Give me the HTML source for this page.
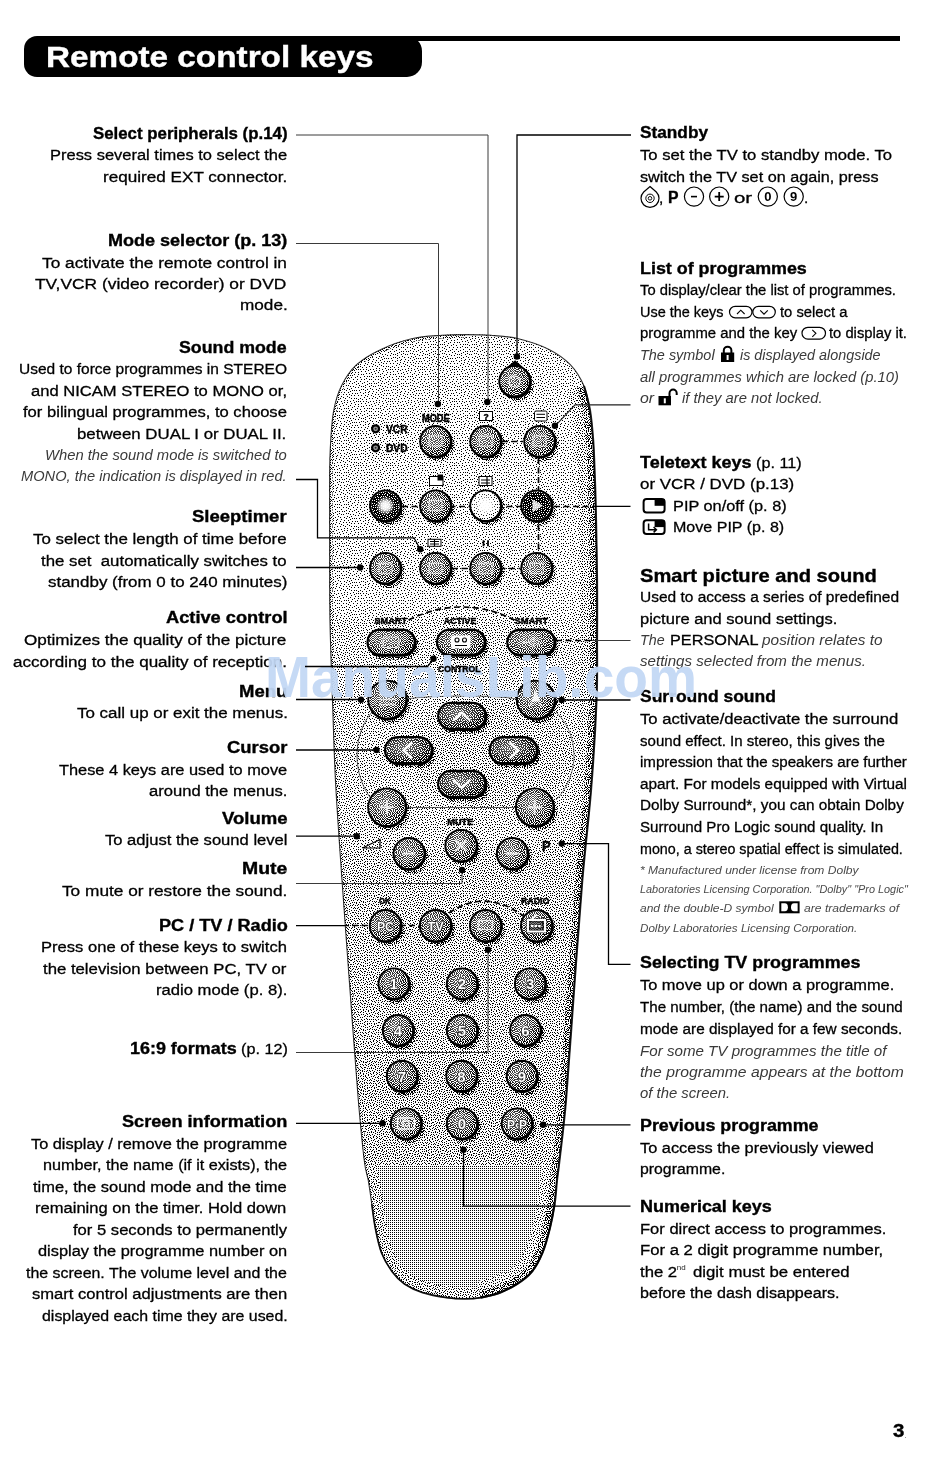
<!DOCTYPE html>
<html lang="en"><head><meta charset="utf-8"><title>Remote control keys</title>
<style>
html,body{margin:0;padding:0;background:#fff;}
body{width:950px;height:1465px;position:relative;overflow:hidden;font-family:"Liberation Sans",sans-serif;}
.t{position:absolute;white-space:pre;line-height:20px;transform-origin:0 0;margin:0;padding:0;}
.b{font-size:16px;font-weight:bold;color:#000;-webkit-text-stroke:0.35px #000;}
.b2{font-size:15.5px;color:#000;-webkit-text-stroke:0.3px #000;}
.B{font-size:18.5px;font-weight:bold;color:#000;-webkit-text-stroke:0.35px #000;}
.r{font-size:15.5px;color:#000;-webkit-text-stroke:0.3px #000;}
.i{font-size:15.5px;font-style:italic;color:#3a3a3a;}
.s{font-size:11.5px;font-style:italic;color:#4a4a4a;}
.sup{font-size:8px;color:#222;}
.dot{font-size:9px;color:#888;}
#banner{position:absolute;left:24px;top:36px;width:398px;height:41px;background:#000;border-radius:13px 15px 15px 13px;}
#rule{position:absolute;left:400px;top:36px;width:500px;height:5px;background:#000;}
#title{position:absolute;left:46px;top:39px;-webkit-text-stroke:0.4px #fff;line-height:36px;font-size:30px;font-weight:bold;color:#fff;white-space:pre;transform-origin:0 0;}
#wm{position:absolute;left:265.4px;top:647.4px;line-height:60px;font-size:57px;font-weight:bold;color:rgb(195,216,245);opacity:0.94;white-space:pre;transform-origin:0 0;}
</style></head>
<body>
<div id="rule"></div><div id="banner"></div>
<div id="title" style="transform:scaleX(1.1098)">Remote control keys</div>
<svg width="950" height="1465" viewBox="0 0 950 1465" style="position:absolute;left:0;top:0" font-family="Liberation Sans, sans-serif">
<defs>
<pattern id="p25" width="2" height="2" patternUnits="userSpaceOnUse"><rect width="2" height="2" fill="#fff"/><rect x="0" y="0" width="1" height="1" fill="#000"/></pattern>
<pattern id="n8" width="32" height="32" patternUnits="userSpaceOnUse"><rect width="32" height="32" fill="#fff"/><path d="M13 1h1v1h-1zM26 1h1v1h-1zM1 2h1v1h-1zM9 2h1v1h-1zM17 2h1v1h-1zM21 2h1v1h-1zM30 2h1v1h-1zM3 3h1v1h-1zM6 3h1v1h-1zM11 5h1v1h-1zM15 5h1v1h-1zM20 5h1v1h-1zM24 5h1v1h-1zM29 5h1v1h-1zM2 6h1v1h-1zM7 6h1v1h-1zM17 7h1v1h-1zM13 8h1v1h-1zM24 8h1v1h-1zM28 8h1v1h-1zM0 9h1v1h-1zM5 9h1v1h-1zM11 9h1v1h-1zM20 9h1v1h-1zM16 10h1v1h-1zM23 10h1v1h-1zM29 10h1v1h-1zM2 11h1v1h-1zM6 11h1v1h-1zM9 11h1v1h-1zM27 12h1v1h-1zM12 13h1v1h-1zM23 13h1v1h-1zM4 14h1v1h-1zM8 14h1v1h-1zM17 14h1v1h-1zM20 14h1v1h-1zM31 14h1v1h-1zM14 15h1v1h-1zM24 16h1v1h-1zM27 16h1v1h-1zM6 17h1v1h-1zM11 17h1v1h-1zM21 17h1v1h-1zM30 17h1v1h-1zM2 18h1v1h-1zM16 18h1v1h-1zM9 19h1v1h-1zM13 19h1v1h-1zM26 20h1v1h-1zM17 21h1v1h-1zM23 21h1v1h-1zM30 21h1v1h-1zM2 22h1v1h-1zM6 22h1v1h-1zM11 22h1v1h-1zM20 22h1v1h-1zM28 22h1v1h-1zM12 24h1v1h-1zM15 24h1v1h-1zM24 24h1v1h-1zM3 25h1v1h-1zM8 25h1v1h-1zM21 25h1v1h-1zM31 25h1v1h-1zM29 26h1v1h-1zM1 27h1v1h-1zM5 27h1v1h-1zM12 27h1v1h-1zM17 27h1v1h-1zM23 27h1v1h-1zM26 27h1v1h-1zM8 29h1v1h-1zM15 29h1v1h-1zM21 29h1v1h-1zM30 29h1v1h-1zM2 30h1v1h-1zM6 31h1v1h-1zM10 31h1v1h-1zM19 31h1v1h-1zM24 31h1v1h-1zM29 31h1v1h-1z" fill="#000" shape-rendering="crispEdges"/></pattern><pattern id="n14" width="32" height="32" patternUnits="userSpaceOnUse"><rect width="32" height="32" fill="#fff"/><path d="M4 0h1v1h-1zM15 0h1v1h-1zM7 1h1v1h-1zM13 1h1v1h-1zM19 1h1v1h-1zM26 1h1v1h-1zM28 1h1v1h-1zM1 2h1v1h-1zM9 2h1v1h-1zM11 2h1v1h-1zM17 2h1v1h-1zM21 2h1v1h-1zM23 2h1v1h-1zM30 2h1v1h-1zM3 3h1v1h-1zM6 3h1v1h-1zM13 3h1v1h-1zM18 4h1v1h-1zM27 4h1v1h-1zM31 4h1v1h-1zM9 5h1v1h-1zM11 5h1v1h-1zM15 5h1v1h-1zM20 5h1v1h-1zM24 5h1v1h-1zM29 5h1v1h-1zM0 6h1v1h-1zM2 6h1v1h-1zM4 6h1v1h-1zM7 6h1v1h-1zM13 6h1v1h-1zM26 6h1v1h-1zM17 7h1v1h-1zM21 7h1v1h-1zM30 7h1v1h-1zM8 8h1v1h-1zM13 8h1v1h-1zM16 8h1v1h-1zM24 8h1v1h-1zM28 8h1v1h-1zM0 9h1v1h-1zM3 9h1v1h-1zM5 9h1v1h-1zM11 9h1v1h-1zM20 9h1v1h-1zM16 10h1v1h-1zM23 10h1v1h-1zM26 10h1v1h-1zM29 10h1v1h-1zM2 11h1v1h-1zM6 11h1v1h-1zM9 11h1v1h-1zM13 11h1v1h-1zM19 11h1v1h-1zM31 11h1v1h-1zM15 12h1v1h-1zM21 12h1v1h-1zM27 12h1v1h-1zM12 13h1v1h-1zM23 13h1v1h-1zM29 13h1v1h-1zM2 14h1v1h-1zM4 14h1v1h-1zM8 14h1v1h-1zM17 14h1v1h-1zM20 14h1v1h-1zM25 14h1v1h-1zM31 14h1v1h-1zM6 15h1v1h-1zM10 15h1v1h-1zM14 15h1v1h-1zM1 16h1v1h-1zM24 16h1v1h-1zM27 16h1v1h-1zM4 17h1v1h-1zM6 17h1v1h-1zM8 17h1v1h-1zM11 17h1v1h-1zM14 17h1v1h-1zM18 17h1v1h-1zM21 17h1v1h-1zM30 17h1v1h-1zM2 18h1v1h-1zM16 18h1v1h-1zM24 18h1v1h-1zM27 18h1v1h-1zM9 19h1v1h-1zM13 19h1v1h-1zM22 19h1v1h-1zM31 19h1v1h-1zM3 20h1v1h-1zM6 20h1v1h-1zM19 20h1v1h-1zM26 20h1v1h-1zM14 21h1v1h-1zM17 21h1v1h-1zM23 21h1v1h-1zM30 21h1v1h-1zM2 22h1v1h-1zM6 22h1v1h-1zM9 22h1v1h-1zM11 22h1v1h-1zM20 22h1v1h-1zM28 22h1v1h-1zM0 23h1v1h-1zM5 24h1v1h-1zM12 24h1v1h-1zM15 24h1v1h-1zM17 24h1v1h-1zM19 24h1v1h-1zM24 24h1v1h-1zM26 24h1v1h-1zM28 24h1v1h-1zM3 25h1v1h-1zM8 25h1v1h-1zM21 25h1v1h-1zM31 25h1v1h-1zM14 26h1v1h-1zM29 26h1v1h-1zM1 27h1v1h-1zM5 27h1v1h-1zM9 27h1v1h-1zM12 27h1v1h-1zM17 27h1v1h-1zM19 27h1v1h-1zM23 27h1v1h-1zM26 27h1v1h-1zM28 28h1v1h-1zM4 29h1v1h-1zM8 29h1v1h-1zM15 29h1v1h-1zM21 29h1v1h-1zM30 29h1v1h-1zM2 30h1v1h-1zM12 30h1v1h-1zM26 30h1v1h-1zM0 31h1v1h-1zM6 31h1v1h-1zM10 31h1v1h-1zM17 31h1v1h-1zM19 31h1v1h-1zM22 31h1v1h-1zM24 31h1v1h-1zM29 31h1v1h-1z" fill="#000" shape-rendering="crispEdges"/></pattern><pattern id="n18" width="32" height="32" patternUnits="userSpaceOnUse"><rect width="32" height="32" fill="#fff"/><path d="M4 0h1v1h-1zM15 0h1v1h-1zM31 0h1v1h-1zM2 1h1v1h-1zM7 1h1v1h-1zM13 1h1v1h-1zM19 1h1v1h-1zM26 1h1v1h-1zM28 1h1v1h-1zM1 2h1v1h-1zM9 2h1v1h-1zM11 2h1v1h-1zM17 2h1v1h-1zM21 2h1v1h-1zM23 2h1v1h-1zM30 2h1v1h-1zM3 3h1v1h-1zM6 3h1v1h-1zM13 3h1v1h-1zM15 3h1v1h-1zM25 3h1v1h-1zM5 4h1v1h-1zM18 4h1v1h-1zM27 4h1v1h-1zM31 4h1v1h-1zM9 5h1v1h-1zM11 5h1v1h-1zM15 5h1v1h-1zM20 5h1v1h-1zM22 5h1v1h-1zM24 5h1v1h-1zM29 5h1v1h-1zM0 6h1v1h-1zM2 6h1v1h-1zM4 6h1v1h-1zM7 6h1v1h-1zM13 6h1v1h-1zM26 6h1v1h-1zM17 7h1v1h-1zM21 7h1v1h-1zM30 7h1v1h-1zM1 8h1v1h-1zM6 8h1v1h-1zM8 8h1v1h-1zM10 8h1v1h-1zM13 8h1v1h-1zM16 8h1v1h-1zM19 8h1v1h-1zM24 8h1v1h-1zM26 8h1v1h-1zM28 8h1v1h-1zM0 9h1v1h-1zM3 9h1v1h-1zM5 9h1v1h-1zM11 9h1v1h-1zM20 9h1v1h-1zM16 10h1v1h-1zM23 10h1v1h-1zM26 10h1v1h-1zM29 10h1v1h-1zM2 11h1v1h-1zM6 11h1v1h-1zM9 11h1v1h-1zM13 11h1v1h-1zM19 11h1v1h-1zM31 11h1v1h-1zM1 12h1v1h-1zM5 12h1v1h-1zM10 12h1v1h-1zM15 12h1v1h-1zM17 12h1v1h-1zM21 12h1v1h-1zM25 12h1v1h-1zM27 12h1v1h-1zM12 13h1v1h-1zM23 13h1v1h-1zM29 13h1v1h-1zM2 14h1v1h-1zM4 14h1v1h-1zM8 14h1v1h-1zM17 14h1v1h-1zM20 14h1v1h-1zM25 14h1v1h-1zM31 14h1v1h-1zM6 15h1v1h-1zM10 15h1v1h-1zM12 15h1v1h-1zM14 15h1v1h-1zM18 15h1v1h-1zM22 15h1v1h-1zM29 15h1v1h-1zM1 16h1v1h-1zM24 16h1v1h-1zM27 16h1v1h-1zM4 17h1v1h-1zM6 17h1v1h-1zM8 17h1v1h-1zM11 17h1v1h-1zM14 17h1v1h-1zM18 17h1v1h-1zM21 17h1v1h-1zM30 17h1v1h-1zM2 18h1v1h-1zM16 18h1v1h-1zM19 18h1v1h-1zM24 18h1v1h-1zM27 18h1v1h-1zM5 19h1v1h-1zM9 19h1v1h-1zM13 19h1v1h-1zM22 19h1v1h-1zM28 19h1v1h-1zM31 19h1v1h-1zM0 20h1v1h-1zM3 20h1v1h-1zM6 20h1v1h-1zM11 20h1v1h-1zM19 20h1v1h-1zM26 20h1v1h-1zM14 21h1v1h-1zM17 21h1v1h-1zM23 21h1v1h-1zM25 21h1v1h-1zM30 21h1v1h-1zM2 22h1v1h-1zM6 22h1v1h-1zM9 22h1v1h-1zM11 22h1v1h-1zM15 22h1v1h-1zM20 22h1v1h-1zM28 22h1v1h-1zM0 23h1v1h-1zM7 23h1v1h-1zM22 23h1v1h-1zM30 23h1v1h-1zM2 24h1v1h-1zM5 24h1v1h-1zM12 24h1v1h-1zM15 24h1v1h-1zM17 24h1v1h-1zM19 24h1v1h-1zM24 24h1v1h-1zM26 24h1v1h-1zM28 24h1v1h-1zM3 25h1v1h-1zM8 25h1v1h-1zM10 25h1v1h-1zM21 25h1v1h-1zM31 25h1v1h-1zM14 26h1v1h-1zM29 26h1v1h-1zM1 27h1v1h-1zM5 27h2v1h-2zM9 27h1v1h-1zM12 27h1v1h-1zM17 27h1v1h-1zM19 27h1v1h-1zM21 27h1v1h-1zM23 27h1v1h-1zM26 27h1v1h-1zM0 28h1v1h-1zM10 28h1v1h-1zM24 28h1v1h-1zM28 28h1v1h-1zM4 29h1v1h-1zM8 29h1v1h-1zM13 29h1v1h-1zM15 29h1v1h-1zM18 29h1v1h-1zM21 29h1v1h-1zM30 29h1v1h-1zM2 30h1v1h-1zM12 30h1v1h-1zM26 30h2v1h-2zM0 31h1v1h-1zM6 31h1v1h-1zM8 31h1v1h-1zM10 31h1v1h-1zM17 31h1v1h-1zM19 31h1v1h-1zM22 31h1v1h-1zM24 31h1v1h-1zM29 31h1v1h-1z" fill="#000" shape-rendering="crispEdges"/></pattern><pattern id="n22" width="32" height="32" patternUnits="userSpaceOnUse"><rect width="32" height="32" fill="#fff"/><path d="M4 0h1v1h-1zM12 0h1v1h-1zM15 0h1v1h-1zM22 0h1v1h-1zM31 0h1v1h-1zM2 1h1v1h-1zM5 1h1v1h-1zM7 1h1v1h-1zM13 1h1v1h-1zM19 1h1v1h-1zM25 1h2v1h-2zM28 1h1v1h-1zM1 2h1v1h-1zM9 2h1v1h-1zM11 2h1v1h-1zM17 2h1v1h-1zM21 2h1v1h-1zM23 2h1v1h-1zM30 2h1v1h-1zM3 3h1v1h-1zM6 3h1v1h-1zM13 3h1v1h-1zM15 3h1v1h-1zM20 3h1v1h-1zM25 3h1v1h-1zM28 3h1v1h-1zM1 4h1v1h-1zM5 4h1v1h-1zM8 4h1v1h-1zM18 4h1v1h-1zM27 4h1v1h-1zM31 4h1v1h-1zM9 5h1v1h-1zM11 5h1v1h-1zM15 5h1v1h-1zM17 5h1v1h-1zM20 5h1v1h-1zM22 5h1v1h-1zM24 5h1v1h-1zM29 5h1v1h-1zM0 6h1v1h-1zM2 6h1v1h-1zM4 6h1v1h-1zM7 6h1v1h-1zM11 6h1v1h-1zM13 6h1v1h-1zM23 6h1v1h-1zM26 6h1v1h-1zM4 7h1v1h-1zM17 7h1v1h-1zM21 7h1v1h-1zM30 7h1v1h-1zM1 8h1v1h-1zM6 8h1v1h-1zM8 8h1v1h-1zM10 8h1v1h-1zM13 8h1v1h-1zM16 8h1v1h-1zM19 8h1v1h-1zM24 8h1v1h-1zM26 8h1v1h-1zM28 8h1v1h-1zM0 9h1v1h-1zM3 9h1v1h-1zM5 9h1v1h-1zM11 9h1v1h-1zM14 9h1v1h-1zM20 9h1v1h-1zM22 9h1v1h-1zM30 9h1v1h-1zM8 10h1v1h-1zM16 10h1v1h-1zM23 10h1v1h-1zM26 10h1v1h-1zM29 10h1v1h-1zM2 11h1v1h-1zM6 11h1v1h-1zM9 11h1v1h-1zM12 11h2v1h-2zM19 11h1v1h-1zM31 11h1v1h-1zM1 12h1v1h-1zM3 12h1v1h-1zM5 12h1v1h-1zM10 12h1v1h-1zM15 12h1v1h-1zM17 12h1v1h-1zM19 12h1v1h-1zM21 12h1v1h-1zM25 12h1v1h-1zM27 12h1v1h-1zM7 13h1v1h-1zM12 13h1v1h-1zM23 13h1v1h-1zM29 13h1v1h-1zM2 14h1v1h-1zM4 14h1v1h-1zM8 14h1v1h-1zM15 14h1v1h-1zM17 14h1v1h-1zM20 14h1v1h-1zM25 14h1v1h-1zM27 14h1v1h-1zM31 14h1v1h-1zM6 15h1v1h-1zM10 15h1v1h-1zM12 15h1v1h-1zM14 15h1v1h-1zM18 15h1v1h-1zM22 15h1v1h-1zM29 15h1v1h-1zM0 16h2v1h-2zM3 16h1v1h-1zM21 16h1v1h-1zM24 16h1v1h-1zM27 16h1v1h-1zM4 17h1v1h-1zM6 17h1v1h-1zM8 17h1v1h-1zM11 17h1v1h-1zM14 17h1v1h-1zM18 17h1v1h-1zM21 17h1v1h-1zM25 17h1v1h-1zM30 17h1v1h-1zM2 18h1v1h-1zM11 18h1v1h-1zM16 18h1v1h-1zM19 18h1v1h-1zM24 18h1v1h-1zM27 18h1v1h-1zM5 19h1v1h-1zM9 19h1v1h-1zM13 19h1v1h-1zM16 19h1v1h-1zM22 19h1v1h-1zM28 19h1v1h-1zM31 19h1v1h-1zM0 20h1v1h-1zM3 20h1v1h-1zM6 20h1v1h-1zM8 20h1v1h-1zM11 20h1v1h-1zM19 20h1v1h-1zM21 20h1v1h-1zM26 20h1v1h-1zM14 21h1v1h-1zM17 21h1v1h-1zM23 21h1v1h-1zM25 21h1v1h-1zM30 21h1v1h-1zM2 22h1v1h-1zM4 22h1v1h-1zM6 22h1v1h-1zM9 22h1v1h-1zM11 22h1v1h-1zM15 22h1v1h-1zM20 22h1v1h-1zM26 22h1v1h-1zM28 22h1v1h-1zM0 23h1v1h-1zM7 23h1v1h-1zM13 23h1v1h-1zM18 23h1v1h-1zM22 23h1v1h-1zM30 23h1v1h-1zM2 24h1v1h-1zM5 24h1v1h-1zM12 24h1v1h-1zM15 24h1v1h-1zM17 24h1v1h-1zM19 24h1v1h-1zM24 24h1v1h-1zM26 24h1v1h-1zM28 24h1v1h-1zM3 25h1v1h-1zM8 25h1v1h-1zM10 25h1v1h-1zM21 25h1v1h-1zM25 25h1v1h-1zM31 25h1v1h-1zM14 26h1v1h-1zM29 26h1v1h-1zM1 27h1v1h-1zM3 27h1v1h-1zM5 27h2v1h-2zM9 27h1v1h-1zM12 27h1v1h-1zM15 27h1v1h-1zM17 27h1v1h-1zM19 27h1v1h-1zM21 27h1v1h-1zM23 27h1v1h-1zM26 27h1v1h-1zM30 27h1v1h-1zM0 28h1v1h-1zM10 28h1v1h-1zM24 28h1v1h-1zM28 28h1v1h-1zM4 29h1v1h-1zM6 29h1v1h-1zM8 29h1v1h-1zM13 29h1v1h-1zM15 29h1v1h-1zM18 29h1v1h-1zM21 29h1v1h-1zM30 29h1v1h-1zM2 30h1v1h-1zM12 30h1v1h-1zM26 30h2v1h-2zM0 31h1v1h-1zM2 31h1v1h-1zM6 31h1v1h-1zM8 31h1v1h-1zM10 31h1v1h-1zM15 31h1v1h-1zM17 31h1v1h-1zM19 31h1v1h-1zM22 31h1v1h-1zM24 31h1v1h-1zM29 31h1v1h-1z" fill="#000" shape-rendering="crispEdges"/></pattern><pattern id="n25" width="32" height="32" patternUnits="userSpaceOnUse"><rect width="32" height="32" fill="#fff"/><path d="M4 0h1v1h-1zM12 0h1v1h-1zM15 0h1v1h-1zM22 0h1v1h-1zM31 0h1v1h-1zM2 1h1v1h-1zM5 1h1v1h-1zM7 1h1v1h-1zM9 1h1v1h-1zM13 1h1v1h-1zM19 1h1v1h-1zM25 1h2v1h-2zM28 1h1v1h-1zM1 2h1v1h-1zM9 2h1v1h-1zM11 2h1v1h-1zM16 2h2v1h-2zM21 2h1v1h-1zM23 2h1v1h-1zM30 2h2v1h-2zM3 3h1v1h-1zM6 3h1v1h-1zM11 3h1v1h-1zM13 3h1v1h-1zM15 3h1v1h-1zM20 3h1v1h-1zM23 3h1v1h-1zM25 3h1v1h-1zM28 3h1v1h-1zM1 4h1v1h-1zM3 4h1v1h-1zM5 4h1v1h-1zM8 4h1v1h-1zM18 4h1v1h-1zM27 4h1v1h-1zM31 4h1v1h-1zM9 5h1v1h-1zM11 5h1v1h-1zM15 5h1v1h-1zM17 5h1v1h-1zM20 5h1v1h-1zM22 5h1v1h-1zM24 5h1v1h-1zM29 5h1v1h-1zM0 6h1v1h-1zM2 6h1v1h-1zM4 6h1v1h-1zM7 6h1v1h-1zM11 6h1v1h-1zM13 6h2v1h-2zM19 6h1v1h-1zM23 6h1v1h-1zM26 6h1v1h-1zM28 6h1v1h-1zM4 7h1v1h-1zM17 7h1v1h-1zM21 7h1v1h-1zM30 7h1v1h-1zM1 8h1v1h-1zM6 8h1v1h-1zM8 8h1v1h-1zM10 8h1v1h-1zM13 8h1v1h-1zM16 8h1v1h-1zM19 8h1v1h-1zM24 8h1v1h-1zM26 8h1v1h-1zM28 8h1v1h-1zM0 9h1v1h-1zM3 9h1v1h-1zM5 9h1v1h-1zM11 9h1v1h-1zM14 9h1v1h-1zM18 9h1v1h-1zM20 9h1v1h-1zM22 9h1v1h-1zM30 9h1v1h-1zM8 10h1v1h-1zM16 10h1v1h-1zM23 10h1v1h-1zM26 10h1v1h-1zM29 10h1v1h-1zM2 11h1v1h-1zM6 11h1v1h-1zM9 11h1v1h-1zM12 11h2v1h-2zM19 11h1v1h-1zM23 11h1v1h-1zM28 11h1v1h-1zM31 11h1v1h-1zM1 12h1v1h-1zM3 12h1v1h-1zM5 12h1v1h-1zM10 12h1v1h-1zM15 12h1v1h-1zM17 12h1v1h-1zM19 12h1v1h-1zM21 12h1v1h-1zM25 12h1v1h-1zM27 12h1v1h-1zM7 13h1v1h-1zM12 13h1v1h-1zM23 13h1v1h-1zM29 13h1v1h-1zM31 13h1v1h-1zM2 14h1v1h-1zM4 14h1v1h-1zM8 14h1v1h-1zM10 14h1v1h-1zM15 14h1v1h-1zM17 14h1v1h-1zM20 14h1v1h-1zM25 14h1v1h-1zM27 14h1v1h-1zM31 14h1v1h-1zM6 15h1v1h-1zM10 15h1v1h-1zM12 15h1v1h-1zM14 15h1v1h-1zM18 15h1v1h-1zM22 15h1v1h-1zM29 15h1v1h-1zM0 16h2v1h-2zM3 16h1v1h-1zM8 16h1v1h-1zM16 16h1v1h-1zM21 16h1v1h-1zM24 16h1v1h-1zM27 16h1v1h-1zM4 17h1v1h-1zM6 17h1v1h-1zM8 17h1v1h-1zM11 17h1v1h-1zM14 17h1v1h-1zM18 17h1v1h-1zM21 17h1v1h-1zM25 17h1v1h-1zM30 17h1v1h-1zM2 18h1v1h-1zM11 18h1v1h-1zM16 18h1v1h-1zM19 18h1v1h-1zM24 18h1v1h-1zM27 18h1v1h-1zM29 18h1v1h-1zM5 19h1v1h-1zM9 19h1v1h-1zM13 19h1v1h-1zM16 19h1v1h-1zM22 19h1v1h-1zM28 19h1v1h-1zM31 19h1v1h-1zM0 20h2v1h-2zM3 20h1v1h-1zM6 20h1v1h-1zM8 20h1v1h-1zM11 20h1v1h-1zM13 20h1v1h-1zM19 20h1v1h-1zM21 20h1v1h-1zM26 20h1v1h-1zM14 21h1v1h-1zM17 21h1v1h-1zM23 21h1v1h-1zM25 21h1v1h-1zM30 21h1v1h-1zM2 22h1v1h-1zM4 22h1v1h-1zM6 22h1v1h-1zM9 22h1v1h-1zM11 22h1v1h-1zM15 22h1v1h-1zM20 22h1v1h-1zM26 22h1v1h-1zM28 22h1v1h-1zM0 23h1v1h-1zM7 23h1v1h-1zM10 23h1v1h-1zM13 23h1v1h-1zM18 23h1v1h-1zM22 23h1v1h-1zM30 23h1v1h-1zM2 24h1v1h-1zM5 24h1v1h-1zM12 24h1v1h-1zM15 24h1v1h-1zM17 24h1v1h-1zM19 24h1v1h-1zM24 24h1v1h-1zM26 24h1v1h-1zM28 24h1v1h-1zM0 25h1v1h-1zM3 25h1v1h-1zM7 25h2v1h-2zM10 25h1v1h-1zM21 25h2v1h-2zM25 25h1v1h-1zM31 25h1v1h-1zM12 26h1v1h-1zM14 26h1v1h-1zM18 26h1v1h-1zM27 26h1v1h-1zM29 26h1v1h-1zM1 27h1v1h-1zM3 27h1v1h-1zM5 27h2v1h-2zM9 27h1v1h-1zM12 27h1v1h-1zM15 27h1v1h-1zM17 27h1v1h-1zM19 27h1v1h-1zM21 27h1v1h-1zM23 27h1v1h-1zM26 27h1v1h-1zM30 27h1v1h-1zM0 28h1v1h-1zM10 28h1v1h-1zM24 28h1v1h-1zM28 28h1v1h-1zM4 29h1v1h-1zM6 29h1v1h-1zM8 29h1v1h-1zM13 29h1v1h-1zM15 29h1v1h-1zM18 29h1v1h-1zM21 29h1v1h-1zM24 29h1v1h-1zM30 29h1v1h-1zM2 30h1v1h-1zM10 30h1v1h-1zM12 30h1v1h-1zM20 30h1v1h-1zM26 30h2v1h-2zM30 30h1v1h-1zM0 31h1v1h-1zM2 31h1v1h-1zM6 31h1v1h-1zM8 31h1v1h-1zM10 31h1v1h-1zM15 31h1v1h-1zM17 31h1v1h-1zM19 31h1v1h-1zM22 31h1v1h-1zM24 31h1v1h-1zM29 31h1v1h-1z" fill="#000" shape-rendering="crispEdges"/></pattern><pattern id="n30" width="32" height="32" patternUnits="userSpaceOnUse"><rect width="32" height="32" fill="#fff"/><path d="M3 0h1v1h-1zM6 0h1v1h-1zM12 0h1v1h-1zM14 0h2v1h-2zM17 0h1v1h-1zM21 0h1v1h-1zM23 0h1v1h-1zM27 0h1v1h-1zM30 0h1v1h-1zM0 1h2v1h-2zM4 1h1v1h-1zM7 1h1v1h-1zM10 1h1v1h-1zM13 1h1v1h-1zM19 1h1v1h-1zM25 1h1v1h-1zM28 1h1v1h-1zM3 2h1v1h-1zM5 2h1v1h-1zM8 2h1v1h-1zM11 2h1v1h-1zM16 2h1v1h-1zM18 2h1v1h-1zM21 2h1v1h-1zM23 2h1v1h-1zM26 2h1v1h-1zM29 2h1v1h-1zM31 2h1v1h-1zM1 3h1v1h-1zM6 3h1v1h-1zM10 3h1v1h-1zM13 3h1v1h-1zM15 3h1v1h-1zM19 3h1v1h-1zM24 3h1v1h-1zM27 3h1v1h-1zM0 4h1v1h-1zM2 4h1v1h-1zM4 4h1v1h-1zM8 4h1v1h-1zM12 4h1v1h-1zM16 4h1v1h-1zM20 4h1v1h-1zM23 4h1v1h-1zM25 4h1v1h-1zM28 4h1v1h-1zM30 4h1v1h-1zM4 5h1v1h-1zM6 5h1v1h-1zM11 5h1v1h-1zM14 5h1v1h-1zM18 5h1v1h-1zM22 5h1v1h-1zM28 5h1v1h-1zM0 6h1v1h-1zM2 6h1v1h-1zM7 6h1v1h-1zM9 6h2v1h-2zM13 6h1v1h-1zM16 6h1v1h-1zM20 6h1v1h-1zM24 6h1v1h-1zM26 6h1v1h-1zM30 6h1v1h-1zM0 7h1v1h-1zM3 7h1v1h-1zM5 7h1v1h-1zM8 7h1v1h-1zM12 7h1v1h-1zM14 7h1v1h-1zM18 7h1v1h-1zM22 7h1v1h-1zM27 7h1v1h-1zM29 7h1v1h-1zM2 8h1v1h-1zM7 8h1v1h-1zM10 8h1v1h-1zM15 8h1v1h-1zM17 8h1v1h-1zM19 8h1v1h-1zM21 8h1v1h-1zM23 8h1v1h-1zM25 8h1v1h-1zM30 8h1v1h-1zM0 9h1v1h-1zM4 9h2v1h-2zM9 9h1v1h-1zM12 9h2v1h-2zM26 9h1v1h-1zM28 9h1v1h-1zM2 10h1v1h-1zM7 10h1v1h-1zM9 10h1v1h-1zM14 10h1v1h-1zM16 10h1v1h-1zM19 10h1v1h-1zM21 10h1v1h-1zM23 10h2v1h-2zM27 10h1v1h-1zM29 10h1v1h-1zM31 10h1v1h-1zM3 11h1v1h-1zM5 11h1v1h-1zM11 11h1v1h-1zM13 11h1v1h-1zM17 11h2v1h-2zM22 11h1v1h-1zM26 11h1v1h-1zM30 11h1v1h-1zM0 12h2v1h-2zM6 12h1v1h-1zM8 12h1v1h-1zM10 12h1v1h-1zM12 12h1v1h-1zM15 12h1v1h-1zM21 12h1v1h-1zM25 12h1v1h-1zM28 12h1v1h-1zM3 13h2v1h-2zM14 13h1v1h-1zM16 13h1v1h-1zM18 13h1v1h-1zM20 13h1v1h-1zM23 13h2v1h-2zM28 13h1v1h-1zM30 13h1v1h-1zM2 14h1v1h-1zM6 14h1v1h-1zM8 14h1v1h-1zM10 14h1v1h-1zM12 14h1v1h-1zM21 14h1v1h-1zM26 14h1v1h-1zM31 14h1v1h-1zM0 15h1v1h-1zM2 15h1v1h-1zM5 15h1v1h-1zM7 15h1v1h-1zM12 15h1v1h-1zM14 15h1v1h-1zM16 15h1v1h-1zM18 15h2v1h-2zM21 15h1v1h-1zM23 15h1v1h-1zM25 15h1v1h-1zM27 15h1v1h-1zM29 15h1v1h-1zM3 16h1v1h-1zM8 16h1v1h-1zM10 16h1v1h-1zM24 16h1v1h-1zM30 16h1v1h-1zM1 17h1v1h-1zM4 17h1v1h-1zM6 17h1v1h-1zM11 17h1v1h-1zM13 17h1v1h-1zM15 17h1v1h-1zM17 17h1v1h-1zM20 17h1v1h-1zM22 17h1v1h-1zM27 17h1v1h-1zM29 17h1v1h-1zM31 17h1v1h-1zM0 18h1v1h-1zM2 18h1v1h-1zM7 18h1v1h-1zM9 18h1v1h-1zM14 18h1v1h-1zM17 18h1v1h-1zM19 18h1v1h-1zM23 18h1v1h-1zM25 18h2v1h-2zM4 19h1v1h-1zM6 19h1v1h-1zM10 19h1v1h-1zM12 19h1v1h-1zM16 19h1v1h-1zM21 19h1v1h-1zM28 19h1v1h-1zM30 19h1v1h-1zM0 20h1v1h-1zM2 20h1v1h-1zM8 20h1v1h-1zM11 20h1v1h-1zM14 20h1v1h-1zM18 20h2v1h-2zM23 20h2v1h-2zM26 20h1v1h-1zM2 21h1v1h-1zM4 21h1v1h-1zM6 21h1v1h-1zM10 21h1v1h-1zM12 21h1v1h-1zM16 21h1v1h-1zM21 21h1v1h-1zM27 21h1v1h-1zM29 21h1v1h-1zM31 21h1v1h-1zM1 22h1v1h-1zM6 22h1v1h-1zM8 22h1v1h-1zM13 22h1v1h-1zM15 22h1v1h-1zM19 22h1v1h-1zM22 22h1v1h-1zM24 22h1v1h-1zM0 23h1v1h-1zM3 23h2v1h-2zM10 23h1v1h-1zM12 23h1v1h-1zM17 23h2v1h-2zM21 23h1v1h-1zM26 23h1v1h-1zM28 23h1v1h-1zM30 23h1v1h-1zM2 24h1v1h-1zM6 24h1v1h-1zM9 24h1v1h-1zM15 24h1v1h-1zM20 24h1v1h-1zM23 24h1v1h-1zM25 24h1v1h-1zM0 25h1v1h-1zM3 25h1v1h-1zM5 25h1v1h-1zM8 25h1v1h-1zM11 25h2v1h-2zM14 25h1v1h-1zM17 25h1v1h-1zM19 25h1v1h-1zM22 25h1v1h-1zM28 25h1v1h-1zM30 25h1v1h-1zM1 26h1v1h-1zM7 26h1v1h-1zM10 26h1v1h-1zM16 26h1v1h-1zM21 26h1v1h-1zM25 26h1v1h-1zM27 26h1v1h-1zM30 26h1v1h-1zM2 27h1v1h-1zM4 27h2v1h-2zM9 27h1v1h-1zM12 27h1v1h-1zM14 27h1v1h-1zM16 27h1v1h-1zM19 27h1v1h-1zM22 27h1v1h-1zM24 27h1v1h-1zM0 28h1v1h-1zM6 28h1v1h-1zM8 28h1v1h-1zM10 28h1v1h-1zM13 28h1v1h-1zM17 28h1v1h-1zM20 28h1v1h-1zM26 28h1v1h-1zM28 28h1v1h-1zM30 28h1v1h-1zM2 29h2v1h-2zM5 29h1v1h-1zM12 29h1v1h-1zM15 29h1v1h-1zM17 29h1v1h-1zM19 29h1v1h-1zM22 29h1v1h-1zM24 29h1v1h-1zM26 29h1v1h-1zM30 29h1v1h-1zM1 30h1v1h-1zM7 30h1v1h-1zM10 30h1v1h-1zM13 30h1v1h-1zM15 30h1v1h-1zM21 30h1v1h-1zM28 30h1v1h-1zM31 30h1v1h-1zM0 31h1v1h-1zM3 31h1v1h-1zM5 31h1v1h-1zM8 31h1v1h-1zM10 31h1v1h-1zM17 31h1v1h-1zM19 31h1v1h-1zM24 31h1v1h-1zM26 31h1v1h-1zM29 31h1v1h-1z" fill="#000" shape-rendering="crispEdges"/></pattern><pattern id="n38" width="32" height="32" patternUnits="userSpaceOnUse"><rect width="32" height="32" fill="#fff"/><path d="M1 0h1v1h-1zM3 0h1v1h-1zM6 0h1v1h-1zM9 0h1v1h-1zM12 0h1v1h-1zM14 0h2v1h-2zM17 0h1v1h-1zM20 0h2v1h-2zM23 0h1v1h-1zM27 0h1v1h-1zM30 0h1v1h-1zM0 1h2v1h-2zM4 1h1v1h-1zM7 1h1v1h-1zM10 1h1v1h-1zM13 1h1v1h-1zM17 1h1v1h-1zM19 1h1v1h-1zM24 1h2v1h-2zM28 1h1v1h-1zM3 2h1v1h-1zM5 2h1v1h-1zM8 2h1v1h-1zM11 2h1v1h-1zM14 2h1v1h-1zM16 2h1v1h-1zM18 2h1v1h-1zM21 2h1v1h-1zM23 2h1v1h-1zM26 2h1v1h-1zM29 2h1v1h-1zM31 2h1v1h-1zM1 3h1v1h-1zM3 3h1v1h-1zM6 3h2v1h-2zM10 3h1v1h-1zM13 3h1v1h-1zM15 3h1v1h-1zM19 3h1v1h-1zM21 3h1v1h-1zM24 3h1v1h-1zM27 3h1v1h-1zM30 3h1v1h-1zM0 4h1v1h-1zM2 4h1v1h-1zM4 4h1v1h-1zM8 4h2v1h-2zM12 4h1v1h-1zM16 4h2v1h-2zM20 4h1v1h-1zM23 4h1v1h-1zM25 4h1v1h-1zM28 4h1v1h-1zM30 4h1v1h-1zM4 5h1v1h-1zM6 5h1v1h-1zM11 5h1v1h-1zM14 5h1v1h-1zM18 5h2v1h-2zM22 5h1v1h-1zM26 5h1v1h-1zM28 5h1v1h-1zM31 5h1v1h-1zM0 6h1v1h-1zM2 6h1v1h-1zM5 6h1v1h-1zM7 6h1v1h-1zM9 6h2v1h-2zM13 6h1v1h-1zM15 6h2v1h-2zM20 6h2v1h-2zM24 6h1v1h-1zM26 6h1v1h-1zM30 6h1v1h-1zM0 7h1v1h-1zM3 7h1v1h-1zM5 7h1v1h-1zM8 7h1v1h-1zM12 7h1v1h-1zM14 7h1v1h-1zM18 7h1v1h-1zM22 7h1v1h-1zM24 7h1v1h-1zM27 7h1v1h-1zM29 7h1v1h-1zM2 8h1v1h-1zM7 8h1v1h-1zM10 8h1v1h-1zM15 8h1v1h-1zM17 8h1v1h-1zM19 8h1v1h-1zM21 8h1v1h-1zM23 8h1v1h-1zM25 8h1v1h-1zM28 8h1v1h-1zM30 8h2v1h-2zM0 9h1v1h-1zM4 9h3v1h-3zM9 9h1v1h-1zM11 9h3v1h-3zM15 9h1v1h-1zM17 9h1v1h-1zM20 9h1v1h-1zM26 9h1v1h-1zM28 9h1v1h-1zM1 10h2v1h-2zM7 10h1v1h-1zM9 10h1v1h-1zM14 10h1v1h-1zM16 10h1v1h-1zM19 10h1v1h-1zM21 10h1v1h-1zM23 10h2v1h-2zM27 10h1v1h-1zM29 10h1v1h-1zM31 10h1v1h-1zM3 11h3v1h-3zM7 11h1v1h-1zM11 11h1v1h-1zM13 11h1v1h-1zM17 11h2v1h-2zM22 11h1v1h-1zM26 11h1v1h-1zM30 11h1v1h-1zM0 12h2v1h-2zM6 12h1v1h-1zM8 12h1v1h-1zM10 12h1v1h-1zM12 12h1v1h-1zM15 12h1v1h-1zM19 12h1v1h-1zM21 12h1v1h-1zM25 12h1v1h-1zM28 12h1v1h-1zM0 13h1v1h-1zM3 13h2v1h-2zM9 13h1v1h-1zM13 13h2v1h-2zM16 13h1v1h-1zM18 13h1v1h-1zM20 13h1v1h-1zM23 13h2v1h-2zM26 13h1v1h-1zM28 13h1v1h-1zM30 13h1v1h-1zM2 14h1v1h-1zM6 14h1v1h-1zM8 14h1v1h-1zM10 14h1v1h-1zM12 14h1v1h-1zM17 14h1v1h-1zM21 14h1v1h-1zM26 14h1v1h-1zM29 14h1v1h-1zM31 14h1v1h-1zM0 15h1v1h-1zM2 15h1v1h-1zM4 15h2v1h-2zM7 15h1v1h-1zM12 15h1v1h-1zM14 15h3v1h-3zM18 15h2v1h-2zM21 15h1v1h-1zM23 15h1v1h-1zM25 15h1v1h-1zM27 15h1v1h-1zM29 15h1v1h-1zM0 16h1v1h-1zM3 16h1v1h-1zM8 16h1v1h-1zM10 16h1v1h-1zM20 16h1v1h-1zM24 16h1v1h-1zM26 16h1v1h-1zM30 16h1v1h-1zM1 17h1v1h-1zM4 17h3v1h-3zM9 17h1v1h-1zM11 17h3v1h-3zM15 17h1v1h-1zM17 17h2v1h-2zM20 17h1v1h-1zM22 17h1v1h-1zM24 17h1v1h-1zM27 17h1v1h-1zM29 17h1v1h-1zM31 17h1v1h-1zM0 18h1v1h-1zM2 18h2v1h-2zM7 18h1v1h-1zM9 18h1v1h-1zM14 18h1v1h-1zM17 18h1v1h-1zM19 18h1v1h-1zM23 18h1v1h-1zM25 18h2v1h-2zM28 18h1v1h-1zM4 19h1v1h-1zM6 19h1v1h-1zM8 19h1v1h-1zM10 19h1v1h-1zM12 19h1v1h-1zM14 19h1v1h-1zM16 19h1v1h-1zM21 19h1v1h-1zM28 19h1v1h-1zM30 19h2v1h-2zM0 20h1v1h-1zM2 20h1v1h-1zM5 20h1v1h-1zM8 20h1v1h-1zM11 20h1v1h-1zM14 20h1v1h-1zM18 20h2v1h-2zM21 20h1v1h-1zM23 20h2v1h-2zM26 20h1v1h-1zM29 20h1v1h-1zM2 21h1v1h-1zM4 21h1v1h-1zM6 21h1v1h-1zM9 21h2v1h-2zM12 21h1v1h-1zM16 21h2v1h-2zM21 21h1v1h-1zM27 21h1v1h-1zM29 21h1v1h-1zM31 21h1v1h-1zM1 22h1v1h-1zM6 22h1v1h-1zM8 22h1v1h-1zM13 22h1v1h-1zM15 22h1v1h-1zM19 22h1v1h-1zM22 22h1v1h-1zM24 22h2v1h-2zM29 22h1v1h-1zM0 23h1v1h-1zM3 23h2v1h-2zM7 23h1v1h-1zM10 23h3v1h-3zM14 23h1v1h-1zM17 23h2v1h-2zM21 23h1v1h-1zM23 23h1v1h-1zM26 23h1v1h-1zM28 23h1v1h-1zM30 23h1v1h-1zM2 24h1v1h-1zM6 24h1v1h-1zM9 24h1v1h-1zM15 24h2v1h-2zM20 24h1v1h-1zM23 24h1v1h-1zM25 24h1v1h-1zM27 24h1v1h-1zM31 24h1v1h-1zM0 25h1v1h-1zM3 25h1v1h-1zM5 25h1v1h-1zM8 25h1v1h-1zM11 25h2v1h-2zM14 25h1v1h-1zM17 25h1v1h-1zM19 25h1v1h-1zM22 25h1v1h-1zM24 25h1v1h-1zM28 25h1v1h-1zM30 25h1v1h-1zM1 26h1v1h-1zM3 26h1v1h-1zM6 26h2v1h-2zM10 26h1v1h-1zM13 26h1v1h-1zM16 26h1v1h-1zM18 26h1v1h-1zM21 26h1v1h-1zM25 26h3v1h-3zM30 26h1v1h-1zM2 27h1v1h-1zM4 27h2v1h-2zM9 27h1v1h-1zM12 27h1v1h-1zM14 27h1v1h-1zM16 27h1v1h-1zM19 27h1v1h-1zM22 27h1v1h-1zM24 27h1v1h-1zM28 27h1v1h-1zM31 27h1v1h-1zM0 28h2v1h-2zM6 28h1v1h-1zM8 28h1v1h-1zM10 28h1v1h-1zM13 28h1v1h-1zM17 28h1v1h-1zM20 28h1v1h-1zM23 28h1v1h-1zM26 28h1v1h-1zM28 28h1v1h-1zM30 28h1v1h-1zM2 29h2v1h-2zM5 29h1v1h-1zM8 29h1v1h-1zM11 29h2v1h-2zM15 29h1v1h-1zM17 29h1v1h-1zM19 29h1v1h-1zM22 29h1v1h-1zM24 29h1v1h-1zM26 29h1v1h-1zM30 29h1v1h-1zM1 30h1v1h-1zM4 30h1v1h-1zM7 30h1v1h-1zM10 30h1v1h-1zM13 30h1v1h-1zM15 30h1v1h-1zM18 30h1v1h-1zM21 30h1v1h-1zM25 30h1v1h-1zM28 30h1v1h-1zM31 30h1v1h-1zM0 31h1v1h-1zM3 31h1v1h-1zM5 31h1v1h-1zM8 31h1v1h-1zM10 31h1v1h-1zM12 31h1v1h-1zM17 31h1v1h-1zM19 31h1v1h-1zM22 31h1v1h-1zM24 31h1v1h-1zM26 31h1v1h-1zM29 31h1v1h-1z" fill="#000" shape-rendering="crispEdges"/></pattern><pattern id="n45" width="32" height="32" patternUnits="userSpaceOnUse"><rect width="32" height="32" fill="#fff"/><path d="M1 0h1v1h-1zM3 0h1v1h-1zM6 0h1v1h-1zM9 0h1v1h-1zM12 0h1v1h-1zM14 0h2v1h-2zM17 0h1v1h-1zM20 0h2v1h-2zM23 0h1v1h-1zM26 0h2v1h-2zM30 0h1v1h-1zM0 1h2v1h-2zM4 1h1v1h-1zM6 1h2v1h-2zM10 1h1v1h-1zM13 1h1v1h-1zM17 1h1v1h-1zM19 1h1v1h-1zM22 1h1v1h-1zM24 1h2v1h-2zM28 1h1v1h-1zM30 1h1v1h-1zM2 2h2v1h-2zM5 2h1v1h-1zM8 2h2v1h-2zM11 2h2v1h-2zM14 2h1v1h-1zM16 2h1v1h-1zM18 2h1v1h-1zM21 2h1v1h-1zM23 2h1v1h-1zM26 2h2v1h-2zM29 2h1v1h-1zM31 2h1v1h-1zM1 3h1v1h-1zM3 3h1v1h-1zM6 3h2v1h-2zM10 3h1v1h-1zM13 3h1v1h-1zM15 3h1v1h-1zM18 3h2v1h-2zM21 3h1v1h-1zM24 3h1v1h-1zM27 3h1v1h-1zM30 3h1v1h-1zM0 4h1v1h-1zM2 4h1v1h-1zM4 4h1v1h-1zM8 4h2v1h-2zM11 4h2v1h-2zM14 4h1v1h-1zM16 4h2v1h-2zM20 4h1v1h-1zM22 4h2v1h-2zM25 4h1v1h-1zM28 4h1v1h-1zM30 4h1v1h-1zM2 5h1v1h-1zM4 5h1v1h-1zM6 5h2v1h-2zM11 5h1v1h-1zM14 5h1v1h-1zM18 5h2v1h-2zM22 5h1v1h-1zM24 5h1v1h-1zM26 5h1v1h-1zM28 5h1v1h-1zM31 5h1v1h-1zM0 6h1v1h-1zM2 6h1v1h-1zM5 6h1v1h-1zM7 6h1v1h-1zM9 6h2v1h-2zM13 6h1v1h-1zM15 6h3v1h-3zM20 6h2v1h-2zM24 6h1v1h-1zM26 6h1v1h-1zM28 6h1v1h-1zM30 6h1v1h-1zM0 7h1v1h-1zM3 7h3v1h-3zM8 7h1v1h-1zM11 7h2v1h-2zM14 7h1v1h-1zM18 7h2v1h-2zM22 7h1v1h-1zM24 7h1v1h-1zM27 7h1v1h-1zM29 7h1v1h-1zM1 8h2v1h-2zM7 8h2v1h-2zM10 8h1v1h-1zM15 8h1v1h-1zM17 8h1v1h-1zM19 8h1v1h-1zM21 8h1v1h-1zM23 8h1v1h-1zM25 8h1v1h-1zM28 8h1v1h-1zM30 8h2v1h-2zM0 9h1v1h-1zM3 9h4v1h-4zM9 9h1v1h-1zM11 9h3v1h-3zM15 9h1v1h-1zM17 9h1v1h-1zM20 9h1v1h-1zM22 9h1v1h-1zM25 9h2v1h-2zM28 9h1v1h-1zM1 10h2v1h-2zM7 10h1v1h-1zM9 10h1v1h-1zM14 10h1v1h-1zM16 10h1v1h-1zM19 10h1v1h-1zM21 10h1v1h-1zM23 10h2v1h-2zM27 10h1v1h-1zM29 10h1v1h-1zM31 10h1v1h-1zM3 11h3v1h-3zM7 11h1v1h-1zM9 11h1v1h-1zM11 11h1v1h-1zM13 11h1v1h-1zM15 11h1v1h-1zM17 11h2v1h-2zM20 11h1v1h-1zM22 11h1v1h-1zM24 11h1v1h-1zM26 11h1v1h-1zM28 11h1v1h-1zM30 11h1v1h-1zM0 12h3v1h-3zM6 12h1v1h-1zM8 12h1v1h-1zM10 12h1v1h-1zM12 12h1v1h-1zM15 12h1v1h-1zM19 12h1v1h-1zM21 12h1v1h-1zM25 12h1v1h-1zM28 12h1v1h-1zM30 12h1v1h-1zM0 13h1v1h-1zM3 13h2v1h-2zM6 13h1v1h-1zM9 13h1v1h-1zM11 13h1v1h-1zM13 13h2v1h-2zM16 13h1v1h-1zM18 13h1v1h-1zM20 13h1v1h-1zM22 13h3v1h-3zM26 13h1v1h-1zM28 13h1v1h-1zM30 13h1v1h-1zM2 14h1v1h-1zM6 14h1v1h-1zM8 14h1v1h-1zM10 14h1v1h-1zM12 14h1v1h-1zM17 14h1v1h-1zM21 14h1v1h-1zM26 14h1v1h-1zM29 14h1v1h-1zM31 14h1v1h-1zM0 15h1v1h-1zM2 15h1v1h-1zM4 15h2v1h-2zM7 15h1v1h-1zM10 15h1v1h-1zM12 15h1v1h-1zM14 15h3v1h-3zM18 15h2v1h-2zM21 15h1v1h-1zM23 15h1v1h-1zM25 15h1v1h-1zM27 15h1v1h-1zM29 15h1v1h-1zM0 16h1v1h-1zM3 16h1v1h-1zM7 16h2v1h-2zM10 16h1v1h-1zM14 16h1v1h-1zM20 16h1v1h-1zM22 16h1v1h-1zM24 16h1v1h-1zM26 16h1v1h-1zM28 16h1v1h-1zM30 16h1v1h-1zM1 17h1v1h-1zM4 17h3v1h-3zM9 17h1v1h-1zM11 17h3v1h-3zM15 17h1v1h-1zM17 17h2v1h-2zM20 17h1v1h-1zM22 17h1v1h-1zM24 17h1v1h-1zM27 17h1v1h-1zM29 17h1v1h-1zM31 17h1v1h-1zM0 18h1v1h-1zM2 18h2v1h-2zM7 18h1v1h-1zM9 18h1v1h-1zM14 18h1v1h-1zM17 18h1v1h-1zM19 18h1v1h-1zM21 18h1v1h-1zM23 18h1v1h-1zM25 18h2v1h-2zM28 18h1v1h-1zM1 19h1v1h-1zM4 19h1v1h-1zM6 19h1v1h-1zM8 19h1v1h-1zM10 19h1v1h-1zM12 19h1v1h-1zM14 19h1v1h-1zM16 19h1v1h-1zM18 19h1v1h-1zM21 19h1v1h-1zM23 19h1v1h-1zM28 19h1v1h-1zM30 19h2v1h-2zM0 20h1v1h-1zM2 20h1v1h-1zM5 20h1v1h-1zM8 20h1v1h-1zM11 20h1v1h-1zM14 20h1v1h-1zM18 20h2v1h-2zM21 20h1v1h-1zM23 20h4v1h-4zM29 20h1v1h-1zM2 21h3v1h-3zM6 21h1v1h-1zM9 21h2v1h-2zM12 21h1v1h-1zM14 21h1v1h-1zM16 21h2v1h-2zM21 21h1v1h-1zM27 21h1v1h-1zM29 21h1v1h-1zM31 21h1v1h-1zM1 22h1v1h-1zM6 22h1v1h-1zM8 22h1v1h-1zM13 22h1v1h-1zM15 22h1v1h-1zM19 22h2v1h-2zM22 22h1v1h-1zM24 22h2v1h-2zM27 22h1v1h-1zM29 22h1v1h-1zM31 22h1v1h-1zM0 23h1v1h-1zM3 23h3v1h-3zM7 23h2v1h-2zM10 23h3v1h-3zM14 23h1v1h-1zM17 23h2v1h-2zM21 23h1v1h-1zM23 23h1v1h-1zM26 23h1v1h-1zM28 23h1v1h-1zM30 23h1v1h-1zM1 24h2v1h-2zM6 24h1v1h-1zM9 24h1v1h-1zM13 24h1v1h-1zM15 24h2v1h-2zM19 24h2v1h-2zM23 24h1v1h-1zM25 24h1v1h-1zM27 24h1v1h-1zM29 24h1v1h-1zM31 24h1v1h-1zM0 25h1v1h-1zM3 25h1v1h-1zM5 25h1v1h-1zM8 25h2v1h-2zM11 25h2v1h-2zM14 25h1v1h-1zM17 25h1v1h-1zM19 25h1v1h-1zM22 25h1v1h-1zM24 25h1v1h-1zM28 25h1v1h-1zM30 25h1v1h-1zM1 26h1v1h-1zM3 26h1v1h-1zM6 26h2v1h-2zM10 26h1v1h-1zM13 26h1v1h-1zM16 26h1v1h-1zM18 26h1v1h-1zM20 26h2v1h-2zM23 26h1v1h-1zM25 26h3v1h-3zM30 26h1v1h-1zM2 27h1v1h-1zM4 27h2v1h-2zM7 27h1v1h-1zM9 27h1v1h-1zM11 27h2v1h-2zM14 27h1v1h-1zM16 27h1v1h-1zM19 27h1v1h-1zM22 27h1v1h-1zM24 27h1v1h-1zM28 27h1v1h-1zM31 27h1v1h-1zM0 28h2v1h-2zM6 28h1v1h-1zM8 28h1v1h-1zM10 28h1v1h-1zM13 28h1v1h-1zM15 28h1v1h-1zM17 28h1v1h-1zM20 28h2v1h-2zM23 28h1v1h-1zM26 28h1v1h-1zM28 28h1v1h-1zM30 28h1v1h-1zM2 29h2v1h-2zM5 29h1v1h-1zM8 29h1v1h-1zM11 29h2v1h-2zM15 29h1v1h-1zM17 29h1v1h-1zM19 29h1v1h-1zM22 29h1v1h-1zM24 29h1v1h-1zM26 29h1v1h-1zM29 29h2v1h-2zM1 30h1v1h-1zM4 30h1v1h-1zM6 30h2v1h-2zM9 30h2v1h-2zM13 30h1v1h-1zM15 30h1v1h-1zM18 30h1v1h-1zM20 30h2v1h-2zM23 30h1v1h-1zM25 30h1v1h-1zM27 30h2v1h-2zM31 30h1v1h-1zM0 31h1v1h-1zM3 31h1v1h-1zM5 31h1v1h-1zM8 31h1v1h-1zM10 31h1v1h-1zM12 31h1v1h-1zM15 31h1v1h-1zM17 31h1v1h-1zM19 31h1v1h-1zM22 31h1v1h-1zM24 31h1v1h-1zM26 31h1v1h-1zM29 31h1v1h-1zM31 31h1v1h-1z" fill="#000" shape-rendering="crispEdges"/></pattern><pattern id="n55" width="32" height="32" patternUnits="userSpaceOnUse"><rect width="32" height="32" fill="#000"/><path d="M0 0h1v1h-1zM2 0h1v1h-1zM4 0h1v1h-1zM7 0h1v1h-1zM10 0h1v1h-1zM13 0h1v1h-1zM16 0h1v1h-1zM19 0h1v1h-1zM22 0h1v1h-1zM24 0h2v1h-2zM29 0h1v1h-1zM31 0h1v1h-1zM2 1h2v1h-2zM5 1h1v1h-1zM8 1h2v1h-2zM11 1h2v1h-2zM14 1h1v1h-1zM16 1h1v1h-1zM18 1h1v1h-1zM20 1h2v1h-2zM23 1h1v1h-1zM26 1h2v1h-2zM29 1h1v1h-1zM31 1h1v1h-1zM0 2h2v1h-2zM6 2h2v1h-2zM10 2h1v1h-1zM13 2h1v1h-1zM15 2h1v1h-1zM17 2h1v1h-1zM19 2h1v1h-1zM24 2h1v1h-1zM28 2h1v1h-1zM30 2h1v1h-1zM2 3h1v1h-1zM4 3h2v1h-2zM8 3h2v1h-2zM11 3h2v1h-2zM14 3h1v1h-1zM17 3h1v1h-1zM20 3h1v1h-1zM22 3h2v1h-2zM25 3h2v1h-2zM28 3h2v1h-2zM31 3h1v1h-1zM1 4h1v1h-1zM3 4h1v1h-1zM6 4h2v1h-2zM10 4h1v1h-1zM13 4h1v1h-1zM15 4h1v1h-1zM18 4h2v1h-2zM21 4h1v1h-1zM24 4h1v1h-1zM27 4h1v1h-1zM31 4h1v1h-1zM0 5h2v1h-2zM5 5h1v1h-1zM8 5h1v1h-1zM10 5h1v1h-1zM13 5h1v1h-1zM16 5h2v1h-2zM21 5h1v1h-1zM23 5h1v1h-1zM25 5h1v1h-1zM27 5h1v1h-1zM29 5h2v1h-2zM3 6h2v1h-2zM6 6h1v1h-1zM8 6h1v1h-1zM11 6h2v1h-2zM14 6h1v1h-1zM18 6h2v1h-2zM22 6h1v1h-1zM25 6h1v1h-1zM27 6h1v1h-1zM29 6h1v1h-1zM1 7h2v1h-2zM7 7h1v1h-1zM9 7h2v1h-2zM13 7h1v1h-1zM15 7h1v1h-1zM17 7h1v1h-1zM20 7h1v1h-1zM23 7h1v1h-1zM25 7h1v1h-1zM28 7h1v1h-1zM30 7h2v1h-2zM0 8h1v1h-1zM3 8h4v1h-4zM11 8h2v1h-2zM14 8h1v1h-1zM16 8h1v1h-1zM18 8h1v1h-1zM20 8h1v1h-1zM22 8h1v1h-1zM24 8h1v1h-1zM26 8h2v1h-2zM29 8h1v1h-1zM1 9h2v1h-2zM7 9h2v1h-2zM10 9h1v1h-1zM14 9h1v1h-1zM16 9h1v1h-1zM19 9h1v1h-1zM21 9h1v1h-1zM24 9h1v1h-1zM27 9h1v1h-1zM29 9h1v1h-1zM31 9h1v1h-1zM0 10h1v1h-1zM3 10h3v1h-3zM8 10h1v1h-1zM10 10h1v1h-1zM12 10h2v1h-2zM15 10h1v1h-1zM17 10h2v1h-2zM20 10h1v1h-1zM22 10h1v1h-1zM25 10h1v1h-1zM28 10h1v1h-1zM30 10h1v1h-1zM1 11h2v1h-2zM6 11h1v1h-1zM8 11h1v1h-1zM10 11h1v1h-1zM12 11h1v1h-1zM14 11h1v1h-1zM16 11h1v1h-1zM19 11h1v1h-1zM21 11h1v1h-1zM23 11h1v1h-1zM25 11h1v1h-1zM27 11h1v1h-1zM29 11h1v1h-1zM31 11h1v1h-1zM3 12h2v1h-2zM7 12h1v1h-1zM9 12h1v1h-1zM11 12h1v1h-1zM14 12h1v1h-1zM16 12h1v1h-1zM18 12h1v1h-1zM20 12h1v1h-1zM22 12h1v1h-1zM24 12h1v1h-1zM26 12h2v1h-2zM29 12h1v1h-1zM31 12h1v1h-1zM1 13h2v1h-2zM5 13h1v1h-1zM7 13h1v1h-1zM10 13h1v1h-1zM12 13h1v1h-1zM15 13h1v1h-1zM17 13h1v1h-1zM19 13h1v1h-1zM21 13h1v1h-1zM25 13h1v1h-1zM29 13h1v1h-1zM31 13h1v1h-1zM0 14h1v1h-1zM3 14h1v1h-1zM5 14h1v1h-1zM7 14h1v1h-1zM9 14h1v1h-1zM11 14h1v1h-1zM13 14h2v1h-2zM16 14h1v1h-1zM18 14h1v1h-1zM20 14h1v1h-1zM22 14h2v1h-2zM25 14h1v1h-1zM27 14h2v1h-2zM30 14h1v1h-1zM1 15h1v1h-1zM3 15h1v1h-1zM6 15h1v1h-1zM8 15h1v1h-1zM11 15h1v1h-1zM13 15h1v1h-1zM17 15h1v1h-1zM20 15h1v1h-1zM24 15h1v1h-1zM26 15h1v1h-1zM31 15h1v1h-1zM1 16h1v1h-1zM4 16h2v1h-2zM9 16h1v1h-1zM11 16h1v1h-1zM13 16h1v1h-1zM15 16h2v1h-2zM18 16h1v1h-1zM21 16h1v1h-1zM23 16h1v1h-1zM25 16h1v1h-1zM27 16h1v1h-1zM29 16h1v1h-1zM31 16h1v1h-1zM0 17h1v1h-1zM2 17h2v1h-2zM7 17h2v1h-2zM10 17h1v1h-1zM14 17h1v1h-1zM16 17h1v1h-1zM19 17h1v1h-1zM21 17h1v1h-1zM23 17h1v1h-1zM26 17h1v1h-1zM28 17h1v1h-1zM30 17h1v1h-1zM1 18h1v1h-1zM4 18h3v1h-3zM8 18h1v1h-1zM10 18h1v1h-1zM12 18h2v1h-2zM16 18h1v1h-1zM18 18h1v1h-1zM20 18h1v1h-1zM22 18h1v1h-1zM24 18h1v1h-1zM27 18h1v1h-1zM29 18h1v1h-1zM31 18h1v1h-1zM0 19h1v1h-1zM2 19h1v1h-1zM7 19h1v1h-1zM11 19h1v1h-1zM13 19h1v1h-1zM15 19h1v1h-1zM17 19h1v1h-1zM19 19h1v1h-1zM22 19h1v1h-1zM24 19h3v1h-3zM29 19h1v1h-1zM1 20h1v1h-1zM3 20h2v1h-2zM6 20h1v1h-1zM9 20h2v1h-2zM13 20h1v1h-1zM15 20h1v1h-1zM17 20h1v1h-1zM20 20h1v1h-1zM22 20h1v1h-1zM27 20h2v1h-2zM30 20h2v1h-2zM1 21h1v1h-1zM5 21h1v1h-1zM7 21h2v1h-2zM11 21h1v1h-1zM13 21h1v1h-1zM15 21h1v1h-1zM18 21h1v1h-1zM20 21h1v1h-1zM22 21h1v1h-1zM24 21h2v1h-2zM28 21h1v1h-1zM0 22h1v1h-1zM2 22h3v1h-3zM7 22h1v1h-1zM9 22h1v1h-1zM11 22h2v1h-2zM14 22h1v1h-1zM16 22h1v1h-1zM18 22h1v1h-1zM21 22h1v1h-1zM23 22h1v1h-1zM26 22h1v1h-1zM28 22h1v1h-1zM30 22h1v1h-1zM1 23h1v1h-1zM6 23h1v1h-1zM9 23h1v1h-1zM13 23h1v1h-1zM16 23h1v1h-1zM19 23h2v1h-2zM22 23h1v1h-1zM25 23h1v1h-1zM27 23h1v1h-1zM29 23h1v1h-1zM31 23h1v1h-1zM0 24h1v1h-1zM3 24h3v1h-3zM8 24h1v1h-1zM10 24h1v1h-1zM12 24h1v1h-1zM14 24h1v1h-1zM17 24h2v1h-2zM22 24h1v1h-1zM24 24h1v1h-1zM28 24h1v1h-1zM30 24h1v1h-1zM1 25h2v1h-2zM6 25h2v1h-2zM10 25h1v1h-1zM13 25h1v1h-1zM15 25h2v1h-2zM20 25h2v1h-2zM23 25h1v1h-1zM25 25h3v1h-3zM29 25h1v1h-1zM31 25h1v1h-1zM2 26h1v1h-1zM4 26h2v1h-2zM8 26h2v1h-2zM11 26h2v1h-2zM14 26h1v1h-1zM17 26h1v1h-1zM19 26h1v1h-1zM22 26h1v1h-1zM24 26h1v1h-1zM28 26h1v1h-1zM31 26h1v1h-1zM0 27h2v1h-2zM3 27h1v1h-1zM6 27h1v1h-1zM8 27h1v1h-1zM10 27h1v1h-1zM13 27h1v1h-1zM15 27h1v1h-1zM17 27h2v1h-2zM20 27h2v1h-2zM23 27h1v1h-1zM25 27h3v1h-3zM29 27h1v1h-1zM2 28h1v1h-1zM5 28h1v1h-1zM7 28h1v1h-1zM11 28h2v1h-2zM14 28h1v1h-1zM16 28h1v1h-1zM19 28h1v1h-1zM22 28h1v1h-1zM24 28h1v1h-1zM29 28h1v1h-1zM31 28h1v1h-1zM1 29h1v1h-1zM4 29h1v1h-1zM7 29h1v1h-1zM9 29h2v1h-2zM13 29h1v1h-1zM16 29h1v1h-1zM18 29h1v1h-1zM20 29h2v1h-2zM23 29h1v1h-1zM25 29h1v1h-1zM27 29h2v1h-2zM31 29h1v1h-1zM0 30h1v1h-1zM2 30h2v1h-2zM5 30h1v1h-1zM8 30h1v1h-1zM11 30h2v1h-2zM14 30h1v1h-1zM17 30h1v1h-1zM19 30h1v1h-1zM22 30h1v1h-1zM24 30h1v1h-1zM26 30h1v1h-1zM29 30h2v1h-2zM1 31h1v1h-1zM4 31h1v1h-1zM6 31h2v1h-2zM9 31h1v1h-1zM11 31h1v1h-1zM14 31h1v1h-1zM16 31h1v1h-1zM18 31h1v1h-1zM20 31h2v1h-2zM23 31h1v1h-1zM27 31h2v1h-2z" fill="#fff" shape-rendering="crispEdges"/></pattern><pattern id="n65" width="32" height="32" patternUnits="userSpaceOnUse"><rect width="32" height="32" fill="#000"/><path d="M0 0h1v1h-1zM2 0h1v1h-1zM4 0h1v1h-1zM7 0h1v1h-1zM13 0h1v1h-1zM16 0h1v1h-1zM19 0h1v1h-1zM22 0h1v1h-1zM24 0h2v1h-2zM29 0h1v1h-1zM31 0h1v1h-1zM3 1h1v1h-1zM5 1h1v1h-1zM8 1h2v1h-2zM11 1h2v1h-2zM14 1h1v1h-1zM18 1h1v1h-1zM21 1h1v1h-1zM23 1h1v1h-1zM26 1h2v1h-2zM29 1h1v1h-1zM0 2h2v1h-2zM6 2h1v1h-1zM15 2h1v1h-1zM17 2h1v1h-1zM19 2h1v1h-1zM24 2h1v1h-1zM30 2h1v1h-1zM2 3h1v1h-1zM4 3h2v1h-2zM8 3h2v1h-2zM11 3h2v1h-2zM14 3h1v1h-1zM17 3h1v1h-1zM20 3h1v1h-1zM22 3h1v1h-1zM25 3h2v1h-2zM28 3h2v1h-2zM3 4h1v1h-1zM7 4h1v1h-1zM15 4h1v1h-1zM19 4h1v1h-1zM21 4h1v1h-1zM24 4h1v1h-1zM31 4h1v1h-1zM0 5h2v1h-2zM5 5h1v1h-1zM8 5h1v1h-1zM10 5h1v1h-1zM13 5h1v1h-1zM16 5h2v1h-2zM21 5h1v1h-1zM23 5h1v1h-1zM25 5h1v1h-1zM27 5h1v1h-1zM29 5h2v1h-2zM3 6h2v1h-2zM6 6h1v1h-1zM8 6h1v1h-1zM11 6h2v1h-2zM14 6h1v1h-1zM19 6h1v1h-1zM22 6h1v1h-1zM27 6h1v1h-1zM1 7h2v1h-2zM7 7h1v1h-1zM9 7h1v1h-1zM15 7h1v1h-1zM17 7h1v1h-1zM20 7h1v1h-1zM23 7h1v1h-1zM25 7h1v1h-1zM28 7h1v1h-1zM30 7h2v1h-2zM0 8h1v1h-1zM3 8h1v1h-1zM5 8h1v1h-1zM11 8h2v1h-2zM14 8h1v1h-1zM18 8h1v1h-1zM22 8h1v1h-1zM26 8h1v1h-1zM29 8h1v1h-1zM1 9h1v1h-1zM7 9h2v1h-2zM10 9h1v1h-1zM14 9h1v1h-1zM16 9h1v1h-1zM19 9h1v1h-1zM21 9h1v1h-1zM24 9h1v1h-1zM27 9h1v1h-1zM31 9h1v1h-1zM3 10h3v1h-3zM10 10h1v1h-1zM12 10h1v1h-1zM15 10h1v1h-1zM17 10h1v1h-1zM22 10h1v1h-1zM25 10h1v1h-1zM28 10h1v1h-1zM30 10h1v1h-1zM1 11h2v1h-2zM6 11h1v1h-1zM8 11h1v1h-1zM12 11h1v1h-1zM14 11h1v1h-1zM19 11h1v1h-1zM21 11h1v1h-1zM23 11h1v1h-1zM25 11h1v1h-1zM27 11h1v1h-1zM31 11h1v1h-1zM4 12h1v1h-1zM7 12h1v1h-1zM9 12h1v1h-1zM11 12h1v1h-1zM14 12h1v1h-1zM16 12h1v1h-1zM18 12h1v1h-1zM20 12h1v1h-1zM22 12h1v1h-1zM24 12h1v1h-1zM27 12h1v1h-1zM29 12h1v1h-1zM31 12h1v1h-1zM1 13h2v1h-2zM5 13h1v1h-1zM10 13h1v1h-1zM12 13h1v1h-1zM15 13h1v1h-1zM25 13h1v1h-1zM29 13h1v1h-1zM0 14h1v1h-1zM3 14h1v1h-1zM5 14h1v1h-1zM7 14h1v1h-1zM9 14h1v1h-1zM14 14h1v1h-1zM16 14h1v1h-1zM18 14h1v1h-1zM20 14h1v1h-1zM22 14h2v1h-2zM25 14h1v1h-1zM27 14h2v1h-2zM30 14h1v1h-1zM1 15h1v1h-1zM3 15h1v1h-1zM6 15h1v1h-1zM8 15h1v1h-1zM11 15h1v1h-1zM13 15h1v1h-1zM17 15h1v1h-1zM20 15h1v1h-1zM1 16h1v1h-1zM4 16h2v1h-2zM9 16h1v1h-1zM11 16h1v1h-1zM13 16h1v1h-1zM15 16h2v1h-2zM18 16h1v1h-1zM21 16h1v1h-1zM23 16h1v1h-1zM25 16h1v1h-1zM27 16h1v1h-1zM29 16h1v1h-1zM31 16h1v1h-1zM2 17h1v1h-1zM7 17h1v1h-1zM14 17h1v1h-1zM19 17h1v1h-1zM21 17h1v1h-1zM23 17h1v1h-1zM26 17h1v1h-1zM28 17h1v1h-1zM30 17h1v1h-1zM1 18h1v1h-1zM4 18h2v1h-2zM8 18h1v1h-1zM10 18h1v1h-1zM12 18h2v1h-2zM16 18h1v1h-1zM18 18h1v1h-1zM20 18h1v1h-1zM24 18h1v1h-1zM27 18h1v1h-1zM31 18h1v1h-1zM0 19h1v1h-1zM2 19h1v1h-1zM7 19h1v1h-1zM11 19h1v1h-1zM15 19h1v1h-1zM19 19h1v1h-1zM22 19h1v1h-1zM24 19h1v1h-1zM26 19h1v1h-1zM29 19h1v1h-1zM3 20h2v1h-2zM6 20h1v1h-1zM9 20h1v1h-1zM13 20h1v1h-1zM17 20h1v1h-1zM20 20h1v1h-1zM22 20h1v1h-1zM27 20h1v1h-1zM30 20h2v1h-2zM1 21h1v1h-1zM5 21h1v1h-1zM8 21h1v1h-1zM11 21h1v1h-1zM13 21h1v1h-1zM15 21h1v1h-1zM18 21h1v1h-1zM20 21h1v1h-1zM24 21h2v1h-2zM28 21h1v1h-1zM0 22h1v1h-1zM2 22h1v1h-1zM4 22h1v1h-1zM7 22h1v1h-1zM9 22h1v1h-1zM11 22h1v1h-1zM14 22h1v1h-1zM16 22h1v1h-1zM18 22h1v1h-1zM21 22h1v1h-1zM23 22h1v1h-1zM26 22h1v1h-1zM30 22h1v1h-1zM1 23h1v1h-1zM6 23h1v1h-1zM13 23h1v1h-1zM16 23h1v1h-1zM20 23h1v1h-1zM22 23h1v1h-1zM25 23h1v1h-1zM27 23h1v1h-1zM29 23h1v1h-1zM31 23h1v1h-1zM3 24h1v1h-1zM5 24h1v1h-1zM8 24h1v1h-1zM10 24h1v1h-1zM12 24h1v1h-1zM14 24h1v1h-1zM17 24h2v1h-2zM24 24h1v1h-1zM28 24h1v1h-1zM1 25h2v1h-2zM6 25h2v1h-2zM10 25h1v1h-1zM13 25h1v1h-1zM16 25h1v1h-1zM20 25h2v1h-2zM23 25h1v1h-1zM25 25h2v1h-2zM29 25h1v1h-1zM31 25h1v1h-1zM4 26h1v1h-1zM9 26h1v1h-1zM12 26h1v1h-1zM14 26h1v1h-1zM17 26h1v1h-1zM19 26h1v1h-1zM28 26h1v1h-1zM31 26h1v1h-1zM1 27h1v1h-1zM3 27h1v1h-1zM6 27h1v1h-1zM8 27h1v1h-1zM10 27h1v1h-1zM15 27h1v1h-1zM18 27h1v1h-1zM21 27h1v1h-1zM23 27h1v1h-1zM25 27h3v1h-3zM29 27h1v1h-1zM2 28h1v1h-1zM5 28h1v1h-1zM12 28h1v1h-1zM14 28h1v1h-1zM16 28h1v1h-1zM19 28h1v1h-1zM22 28h1v1h-1zM29 28h1v1h-1zM31 28h1v1h-1zM1 29h1v1h-1zM4 29h1v1h-1zM7 29h1v1h-1zM9 29h2v1h-2zM13 29h1v1h-1zM16 29h1v1h-1zM18 29h1v1h-1zM20 29h1v1h-1zM23 29h1v1h-1zM25 29h1v1h-1zM27 29h1v1h-1zM0 30h1v1h-1zM3 30h1v1h-1zM5 30h1v1h-1zM8 30h1v1h-1zM12 30h1v1h-1zM14 30h1v1h-1zM19 30h1v1h-1zM22 30h1v1h-1zM24 30h1v1h-1zM26 30h1v1h-1zM29 30h2v1h-2zM1 31h1v1h-1zM6 31h1v1h-1zM9 31h1v1h-1zM11 31h1v1h-1zM14 31h1v1h-1zM16 31h1v1h-1zM18 31h1v1h-1zM21 31h1v1h-1zM27 31h1v1h-1z" fill="#fff" shape-rendering="crispEdges"/></pattern><pattern id="n78" width="32" height="32" patternUnits="userSpaceOnUse"><rect width="32" height="32" fill="#000"/><path d="M2 0h1v1h-1zM4 0h1v1h-1zM7 0h1v1h-1zM16 0h1v1h-1zM19 0h1v1h-1zM25 0h1v1h-1zM29 0h1v1h-1zM31 0h1v1h-1zM3 1h1v1h-1zM9 1h1v1h-1zM12 1h1v1h-1zM14 1h1v1h-1zM21 1h1v1h-1zM23 1h1v1h-1zM27 1h1v1h-1zM0 2h1v1h-1zM6 2h1v1h-1zM17 2h1v1h-1zM19 2h1v1h-1zM24 2h1v1h-1zM30 2h1v1h-1zM2 3h1v1h-1zM5 3h1v1h-1zM9 3h1v1h-1zM11 3h1v1h-1zM14 3h1v1h-1zM22 3h1v1h-1zM26 3h1v1h-1zM28 3h1v1h-1zM3 4h1v1h-1zM7 4h1v1h-1zM15 4h1v1h-1zM19 4h1v1h-1zM31 4h1v1h-1zM1 5h1v1h-1zM5 5h1v1h-1zM8 5h1v1h-1zM10 5h1v1h-1zM13 5h1v1h-1zM17 5h1v1h-1zM21 5h1v1h-1zM23 5h1v1h-1zM25 5h1v1h-1zM27 5h1v1h-1zM29 5h1v1h-1zM3 6h1v1h-1zM11 6h1v1h-1zM14 6h1v1h-1zM19 6h1v1h-1zM1 7h1v1h-1zM7 7h1v1h-1zM9 7h1v1h-1zM17 7h1v1h-1zM20 7h1v1h-1zM23 7h1v1h-1zM25 7h1v1h-1zM28 7h1v1h-1zM31 7h1v1h-1zM3 8h1v1h-1zM5 8h1v1h-1zM12 8h1v1h-1zM14 8h1v1h-1zM26 8h1v1h-1zM29 8h1v1h-1zM1 9h1v1h-1zM8 9h1v1h-1zM10 9h1v1h-1zM16 9h1v1h-1zM19 9h1v1h-1zM21 9h1v1h-1zM24 9h1v1h-1zM31 9h1v1h-1zM3 10h1v1h-1zM5 10h1v1h-1zM12 10h1v1h-1zM15 10h1v1h-1zM17 10h1v1h-1zM22 10h1v1h-1zM28 10h1v1h-1zM30 10h1v1h-1zM1 11h1v1h-1zM25 11h1v1h-1zM4 12h1v1h-1zM7 12h1v1h-1zM9 12h1v1h-1zM11 12h1v1h-1zM14 12h1v1h-1zM16 12h1v1h-1zM18 12h1v1h-1zM20 12h1v1h-1zM22 12h1v1h-1zM24 12h1v1h-1zM27 12h1v1h-1zM29 12h1v1h-1zM31 12h1v1h-1zM1 13h1v1h-1zM5 13h1v1h-1zM12 13h1v1h-1zM0 14h1v1h-1zM3 14h1v1h-1zM7 14h1v1h-1zM9 14h1v1h-1zM14 14h1v1h-1zM16 14h1v1h-1zM18 14h1v1h-1zM20 14h1v1h-1zM23 14h1v1h-1zM25 14h1v1h-1zM27 14h1v1h-1zM30 14h1v1h-1zM3 15h1v1h-1zM13 15h1v1h-1zM1 16h1v1h-1zM5 16h1v1h-1zM9 16h1v1h-1zM11 16h1v1h-1zM16 16h1v1h-1zM18 16h1v1h-1zM25 16h1v1h-1zM29 16h1v1h-1zM31 16h1v1h-1zM2 17h1v1h-1zM7 17h1v1h-1zM14 17h1v1h-1zM19 17h1v1h-1zM21 17h1v1h-1zM23 17h1v1h-1zM26 17h1v1h-1zM28 17h1v1h-1zM5 18h1v1h-1zM8 18h1v1h-1zM10 18h1v1h-1zM13 18h1v1h-1zM16 18h1v1h-1zM31 18h1v1h-1zM2 19h1v1h-1zM11 19h1v1h-1zM15 19h1v1h-1zM19 19h1v1h-1zM24 19h1v1h-1zM26 19h1v1h-1zM29 19h1v1h-1zM3 20h1v1h-1zM6 20h1v1h-1zM9 20h1v1h-1zM17 20h1v1h-1zM20 20h1v1h-1zM22 20h1v1h-1zM31 20h1v1h-1zM1 21h1v1h-1zM5 21h1v1h-1zM13 21h1v1h-1zM15 21h1v1h-1zM24 21h1v1h-1zM28 21h1v1h-1zM4 22h1v1h-1zM7 22h1v1h-1zM9 22h1v1h-1zM11 22h1v1h-1zM18 22h1v1h-1zM26 22h1v1h-1zM1 23h1v1h-1zM16 23h1v1h-1zM20 23h1v1h-1zM22 23h1v1h-1zM27 23h1v1h-1zM29 23h1v1h-1zM31 23h1v1h-1zM3 24h1v1h-1zM5 24h1v1h-1zM8 24h1v1h-1zM10 24h1v1h-1zM12 24h1v1h-1zM14 24h1v1h-1zM18 24h1v1h-1zM24 24h1v1h-1zM1 25h1v1h-1zM7 25h1v1h-1zM16 25h1v1h-1zM21 25h1v1h-1zM23 25h1v1h-1zM26 25h1v1h-1zM29 25h1v1h-1zM4 26h1v1h-1zM12 26h1v1h-1zM14 26h1v1h-1zM19 26h1v1h-1zM31 26h1v1h-1zM1 27h1v1h-1zM3 27h1v1h-1zM6 27h1v1h-1zM8 27h1v1h-1zM10 27h1v1h-1zM15 27h1v1h-1zM18 27h1v1h-1zM21 27h1v1h-1zM23 27h1v1h-1zM25 27h1v1h-1zM27 27h1v1h-1zM5 28h1v1h-1zM12 28h1v1h-1zM14 28h1v1h-1zM29 28h1v1h-1zM31 28h1v1h-1zM1 29h1v1h-1zM7 29h1v1h-1zM10 29h1v1h-1zM16 29h1v1h-1zM18 29h1v1h-1zM20 29h1v1h-1zM25 29h1v1h-1zM27 29h1v1h-1zM0 30h1v1h-1zM3 30h1v1h-1zM5 30h1v1h-1zM12 30h1v1h-1zM22 30h1v1h-1zM24 30h1v1h-1zM29 30h1v1h-1zM9 31h1v1h-1zM11 31h1v1h-1zM14 31h1v1h-1zM18 31h1v1h-1zM21 31h1v1h-1zM27 31h1v1h-1z" fill="#fff" shape-rendering="crispEdges"/></pattern>
<radialGradient id="hl" cx="0.42" cy="0.4" r="0.55"><stop offset="0" stop-color="#fff" stop-opacity="0.42"/><stop offset="0.6" stop-color="#fff" stop-opacity="0.2"/><stop offset="1" stop-color="#fff" stop-opacity="0"/></radialGradient>
<radialGradient id="hlp" cx="0.42" cy="0.4" r="0.6"><stop offset="0" stop-color="#fff" stop-opacity="0.42"/><stop offset="0.6" stop-color="#fff" stop-opacity="0.2"/><stop offset="1" stop-color="#fff" stop-opacity="0"/></radialGradient>
<radialGradient id="wc" cx="0.5" cy="0.5" r="0.5"><stop offset="0" stop-color="#fff" stop-opacity="1"/><stop offset="0.45" stop-color="#fff" stop-opacity="0.9"/><stop offset="1" stop-color="#fff" stop-opacity="0"/></radialGradient>
<linearGradient id="fadeL" x1="0" y1="0" x2="1" y2="0"><stop offset="0" stop-color="#fff" stop-opacity="0"/><stop offset="1" stop-color="#fff" stop-opacity="1"/></linearGradient>
<clipPath id="lowclip"><rect x="320" y="1150" width="290" height="160"/></clipPath>
<clipPath id="bodyclip"><path d="M465.0 1298.8 C459.4 1298.8 454.0 1298.6 446.9 1297.6 C439.8 1296.6 429.7 1294.9 422.6 1292.6 C415.5 1290.3 409.5 1287.4 404.5 1284.0 C399.5 1280.6 396.2 1277.2 392.4 1272.0 C388.6 1266.8 384.3 1259.9 381.5 1252.6 C378.7 1245.3 377.0 1236.5 375.4 1228.4 C373.8 1220.3 373.0 1212.1 371.8 1204.0 C370.6 1195.9 369.5 1187.3 368.2 1180.0 C366.9 1172.7 365.8 1173.3 364.2 1160.0 C362.6 1146.7 360.7 1128.3 358.3 1100.0 C355.9 1071.7 352.7 1026.7 350.0 990.0 C347.3 953.3 344.4 914.2 342.0 880.0 C339.6 845.8 337.2 812.5 335.7 785.0 C334.2 757.5 333.9 742.2 333.0 715.0 C332.1 687.8 330.6 651.2 330.0 622.0 C329.4 592.8 329.7 564.5 329.6 540.0 C329.5 515.5 329.4 491.5 329.6 475.0 C329.8 458.5 330.0 451.8 330.7 441.0 C331.4 430.2 331.9 419.7 333.7 410.5 C335.5 401.3 337.6 393.6 341.4 386.0 C345.2 378.4 350.0 370.8 356.6 364.7 C363.2 358.6 371.8 353.7 381.0 349.4 C390.2 345.1 401.4 341.0 411.6 338.7 C421.8 336.4 432.9 336.0 442.0 335.3 C451.1 334.6 457.8 334.6 466.0 334.6 C474.2 334.6 482.3 334.6 491.0 335.3 C499.7 336.0 508.7 336.4 518.4 338.7 C528.1 341.0 540.4 345.1 549.0 349.4 C557.6 353.7 564.5 358.6 570.3 364.7 C576.1 370.8 580.7 378.4 584.0 386.0 C587.3 393.6 588.5 401.3 590.0 410.5 C591.5 419.7 592.4 430.2 593.2 441.0 C594.0 451.8 594.3 464.2 594.7 475.0 C595.1 485.8 595.3 488.5 595.7 506.0 C596.1 523.5 596.8 557.7 597.0 580.0 C597.2 602.3 597.1 620.0 597.0 640.0 C596.9 660.0 597.5 675.0 596.5 700.0 C595.5 725.0 593.4 760.0 591.0 790.0 C588.6 820.0 585.1 846.7 582.3 880.0 C579.5 913.3 576.7 953.3 574.0 990.0 C571.3 1026.7 568.4 1071.7 566.0 1100.0 C563.6 1128.3 561.0 1146.7 559.5 1160.0 C558.0 1173.3 557.8 1172.7 557.0 1180.0 C556.2 1187.3 555.8 1195.9 554.6 1204.0 C553.4 1212.1 551.8 1220.3 549.8 1228.4 C547.8 1236.5 545.5 1245.3 542.5 1252.6 C539.5 1259.9 535.9 1266.8 531.6 1272.0 C527.4 1277.2 522.3 1280.6 517.0 1284.0 C511.7 1287.4 506.0 1290.3 500.0 1292.6 C494.0 1294.9 486.6 1296.6 480.8 1297.6 C475.0 1298.6 470.6 1298.8 465.0 1298.8Z"/></clipPath>
</defs>
<g clip-path="url(#bodyclip)" shape-rendering="crispEdges">
<rect x="320" y="330" width="290" height="290" fill="url(#n14)"/>
<rect x="320" y="620" width="290" height="230" fill="url(#n18)"/>
<rect x="320" y="850" width="290" height="210" fill="url(#n22)"/>
<rect x="320" y="1060" width="290" height="105" fill="url(#n25)"/>
<rect x="320" y="1165" width="290" height="140" fill="url(#p25)"/>
<g clip-path="url(#lowclip)"><path d="M465.0 1298.8 C459.4 1298.8 454.0 1298.6 446.9 1297.6 C439.8 1296.6 429.7 1294.9 422.6 1292.6 C415.5 1290.3 409.5 1287.4 404.5 1284.0 C399.5 1280.6 396.2 1277.2 392.4 1272.0 C388.6 1266.8 384.3 1259.9 381.5 1252.6 C378.7 1245.3 377.0 1236.5 375.4 1228.4 C373.8 1220.3 373.0 1212.1 371.8 1204.0 C370.6 1195.9 369.5 1187.3 368.2 1180.0 C366.9 1172.7 365.8 1173.3 364.2 1160.0 C362.6 1146.7 360.7 1128.3 358.3 1100.0 C355.9 1071.7 352.7 1026.7 350.0 990.0 C347.3 953.3 344.4 914.2 342.0 880.0 C339.6 845.8 337.2 812.5 335.7 785.0 C334.2 757.5 333.9 742.2 333.0 715.0 C332.1 687.8 330.6 651.2 330.0 622.0 C329.4 592.8 329.7 564.5 329.6 540.0 C329.5 515.5 329.4 491.5 329.6 475.0 C329.8 458.5 330.0 451.8 330.7 441.0 C331.4 430.2 331.9 419.7 333.7 410.5 C335.5 401.3 337.6 393.6 341.4 386.0 C345.2 378.4 350.0 370.8 356.6 364.7 C363.2 358.6 371.8 353.7 381.0 349.4 C390.2 345.1 401.4 341.0 411.6 338.7 C421.8 336.4 432.9 336.0 442.0 335.3 C451.1 334.6 457.8 334.6 466.0 334.6 C474.2 334.6 482.3 334.6 491.0 335.3 C499.7 336.0 508.7 336.4 518.4 338.7 C528.1 341.0 540.4 345.1 549.0 349.4 C557.6 353.7 564.5 358.6 570.3 364.7 C576.1 370.8 580.7 378.4 584.0 386.0 C587.3 393.6 588.5 401.3 590.0 410.5 C591.5 419.7 592.4 430.2 593.2 441.0 C594.0 451.8 594.3 464.2 594.7 475.0 C595.1 485.8 595.3 488.5 595.7 506.0 C596.1 523.5 596.8 557.7 597.0 580.0 C597.2 602.3 597.1 620.0 597.0 640.0 C596.9 660.0 597.5 675.0 596.5 700.0 C595.5 725.0 593.4 760.0 591.0 790.0 C588.6 820.0 585.1 846.7 582.3 880.0 C579.5 913.3 576.7 953.3 574.0 990.0 C571.3 1026.7 568.4 1071.7 566.0 1100.0 C563.6 1128.3 561.0 1146.7 559.5 1160.0 C558.0 1173.3 557.8 1172.7 557.0 1180.0 C556.2 1187.3 555.8 1195.9 554.6 1204.0 C553.4 1212.1 551.8 1220.3 549.8 1228.4 C547.8 1236.5 545.5 1245.3 542.5 1252.6 C539.5 1259.9 535.9 1266.8 531.6 1272.0 C527.4 1277.2 522.3 1280.6 517.0 1284.0 C511.7 1287.4 506.0 1290.3 500.0 1292.6 C494.0 1294.9 486.6 1296.6 480.8 1297.6 C475.0 1298.6 470.6 1298.8 465.0 1298.8Z" fill="none" stroke="url(#n25)" stroke-width="22"/></g>
</g>
<g clip-path="url(#bodyclip)">
<path d="M584.0 386.0 C585.0 390.1 588.5 401.3 590.0 410.5 C591.5 419.7 592.4 430.2 593.2 441.0 C594.0 451.8 594.3 464.2 594.7 475.0 C595.1 485.8 595.3 488.5 595.7 506.0 C596.1 523.5 596.8 557.7 597.0 580.0 C597.2 602.3 597.1 620.0 597.0 640.0 C596.9 660.0 597.5 675.0 596.5 700.0 C595.5 725.0 593.4 760.0 591.0 790.0 C588.6 820.0 585.1 846.7 582.3 880.0 C579.5 913.3 576.7 953.3 574.0 990.0 C571.3 1026.7 568.4 1071.7 566.0 1100.0 C563.6 1128.3 561.0 1146.7 559.5 1160.0 C558.0 1173.3 557.8 1172.7 557.0 1180.0 C556.2 1187.3 555.8 1195.9 554.6 1204.0 C553.4 1212.1 551.8 1220.3 549.8 1228.4 C547.8 1236.5 545.5 1245.3 542.5 1252.6 C539.5 1259.9 535.9 1266.8 531.6 1272.0 C527.4 1277.2 522.3 1280.6 517.0 1284.0 C511.7 1287.4 506.0 1290.3 500.0 1292.6 C494.0 1294.9 484.0 1296.8 480.8 1297.6" fill="none" stroke="url(#n22)" stroke-width="34" style="mix-blend-mode:multiply"/>
<path d="M584.0 386.0 C585.0 390.1 588.5 401.3 590.0 410.5 C591.5 419.7 592.4 430.2 593.2 441.0 C594.0 451.8 594.3 464.2 594.7 475.0 C595.1 485.8 595.3 488.5 595.7 506.0 C596.1 523.5 596.8 557.7 597.0 580.0 C597.2 602.3 597.1 620.0 597.0 640.0 C596.9 660.0 597.5 675.0 596.5 700.0 C595.5 725.0 593.4 760.0 591.0 790.0 C588.6 820.0 585.1 846.7 582.3 880.0 C579.5 913.3 576.7 953.3 574.0 990.0 C571.3 1026.7 568.4 1071.7 566.0 1100.0 C563.6 1128.3 561.0 1146.7 559.5 1160.0 C558.0 1173.3 557.8 1172.7 557.0 1180.0 C556.2 1187.3 555.8 1195.9 554.6 1204.0 C553.4 1212.1 551.8 1220.3 549.8 1228.4 C547.8 1236.5 545.5 1245.3 542.5 1252.6 C539.5 1259.9 535.9 1266.8 531.6 1272.0 C527.4 1277.2 522.3 1280.6 517.0 1284.0 C511.7 1287.4 506.0 1290.3 500.0 1292.6 C494.0 1294.9 484.0 1296.8 480.8 1297.6" fill="none" stroke="url(#n30)" stroke-width="14" style="mix-blend-mode:multiply"/>
<path d="M466.0 334.6 C462.0 334.7 451.1 334.6 442.0 335.3 C432.9 336.0 421.8 336.4 411.6 338.7 C401.4 341.0 390.2 345.1 381.0 349.4 C371.8 353.7 363.2 358.6 356.6 364.7 C350.0 370.8 345.2 378.4 341.4 386.0 C337.6 393.6 335.5 401.3 333.7 410.5 C331.9 419.7 331.4 430.2 330.7 441.0 C330.0 451.8 329.8 458.5 329.6 475.0 C329.4 491.5 329.5 515.5 329.6 540.0 C329.7 564.5 329.4 592.8 330.0 622.0 C330.6 651.2 332.1 687.8 333.0 715.0 C333.9 742.2 334.2 757.5 335.7 785.0 C337.2 812.5 339.6 845.8 342.0 880.0 C344.4 914.2 347.3 953.3 350.0 990.0 C352.7 1026.7 355.9 1071.7 358.3 1100.0 C360.7 1128.3 362.6 1146.7 364.2 1160.0 C365.8 1173.3 366.9 1172.7 368.2 1180.0 C369.5 1187.3 370.6 1195.9 371.8 1204.0 C373.0 1212.1 373.8 1220.3 375.4 1228.4 C377.0 1236.5 378.7 1245.3 381.5 1252.6 C384.3 1259.9 388.6 1266.8 392.4 1272.0 C396.2 1277.2 399.5 1280.6 404.5 1284.0 C409.5 1287.4 415.5 1290.3 422.6 1292.6 C429.7 1294.9 442.8 1296.8 446.9 1297.6" fill="none" stroke="url(#n30)" stroke-width="6" style="mix-blend-mode:multiply"/>
<ellipse cx="492" cy="752" rx="82" ry="58" fill="url(#n22)" style="mix-blend-mode:multiply"/>
</g>
<path d="M465.0 1298.8 C459.4 1298.8 454.0 1298.6 446.9 1297.6 C439.8 1296.6 429.7 1294.9 422.6 1292.6 C415.5 1290.3 409.5 1287.4 404.5 1284.0 C399.5 1280.6 396.2 1277.2 392.4 1272.0 C388.6 1266.8 384.3 1259.9 381.5 1252.6 C378.7 1245.3 377.0 1236.5 375.4 1228.4 C373.8 1220.3 373.0 1212.1 371.8 1204.0 C370.6 1195.9 369.5 1187.3 368.2 1180.0 C366.9 1172.7 365.8 1173.3 364.2 1160.0 C362.6 1146.7 360.7 1128.3 358.3 1100.0 C355.9 1071.7 352.7 1026.7 350.0 990.0 C347.3 953.3 344.4 914.2 342.0 880.0 C339.6 845.8 337.2 812.5 335.7 785.0 C334.2 757.5 333.9 742.2 333.0 715.0 C332.1 687.8 330.6 651.2 330.0 622.0 C329.4 592.8 329.7 564.5 329.6 540.0 C329.5 515.5 329.4 491.5 329.6 475.0 C329.8 458.5 330.0 451.8 330.7 441.0 C331.4 430.2 331.9 419.7 333.7 410.5 C335.5 401.3 337.6 393.6 341.4 386.0 C345.2 378.4 350.0 370.8 356.6 364.7 C363.2 358.6 371.8 353.7 381.0 349.4 C390.2 345.1 401.4 341.0 411.6 338.7 C421.8 336.4 432.9 336.0 442.0 335.3 C451.1 334.6 457.8 334.6 466.0 334.6 C474.2 334.6 482.3 334.6 491.0 335.3 C499.7 336.0 508.7 336.4 518.4 338.7 C528.1 341.0 540.4 345.1 549.0 349.4 C557.6 353.7 564.5 358.6 570.3 364.7 C576.1 370.8 580.7 378.4 584.0 386.0 C587.3 393.6 588.5 401.3 590.0 410.5 C591.5 419.7 592.4 430.2 593.2 441.0 C594.0 451.8 594.3 464.2 594.7 475.0 C595.1 485.8 595.3 488.5 595.7 506.0 C596.1 523.5 596.8 557.7 597.0 580.0 C597.2 602.3 597.1 620.0 597.0 640.0 C596.9 660.0 597.5 675.0 596.5 700.0 C595.5 725.0 593.4 760.0 591.0 790.0 C588.6 820.0 585.1 846.7 582.3 880.0 C579.5 913.3 576.7 953.3 574.0 990.0 C571.3 1026.7 568.4 1071.7 566.0 1100.0 C563.6 1128.3 561.0 1146.7 559.5 1160.0 C558.0 1173.3 557.8 1172.7 557.0 1180.0 C556.2 1187.3 555.8 1195.9 554.6 1204.0 C553.4 1212.1 551.8 1220.3 549.8 1228.4 C547.8 1236.5 545.5 1245.3 542.5 1252.6 C539.5 1259.9 535.9 1266.8 531.6 1272.0 C527.4 1277.2 522.3 1280.6 517.0 1284.0 C511.7 1287.4 506.0 1290.3 500.0 1292.6 C494.0 1294.9 486.6 1296.6 480.8 1297.6 C475.0 1298.6 470.6 1298.8 465.0 1298.8Z" fill="none" stroke="#000" stroke-width="1.1" stroke-opacity="0.8"/>
<path d="M584.0 386.0 C585.0 390.1 588.5 401.3 590.0 410.5 C591.5 419.7 592.4 430.2 593.2 441.0 C594.0 451.8 594.3 464.2 594.7 475.0 C595.1 485.8 595.3 488.5 595.7 506.0 C596.1 523.5 596.8 557.7 597.0 580.0 C597.2 602.3 597.1 620.0 597.0 640.0 C596.9 660.0 597.5 675.0 596.5 700.0 C595.5 725.0 593.4 760.0 591.0 790.0 C588.6 820.0 585.1 846.7 582.3 880.0 C579.5 913.3 576.7 953.3 574.0 990.0 C571.3 1026.7 568.4 1071.7 566.0 1100.0 C563.6 1128.3 561.0 1146.7 559.5 1160.0 C558.0 1173.3 557.8 1172.7 557.0 1180.0 C556.2 1187.3 555.8 1195.9 554.6 1204.0 C553.4 1212.1 551.8 1220.3 549.8 1228.4 C547.8 1236.5 545.5 1245.3 542.5 1252.6 C539.5 1259.9 535.9 1266.8 531.6 1272.0 C527.4 1277.2 522.3 1280.6 517.0 1284.0 C511.7 1287.4 506.0 1290.3 500.0 1292.6 C494.0 1294.9 484.0 1296.8 480.8 1297.6" fill="none" stroke="#000" stroke-width="2.2" stroke-opacity="0.8"/>
<path d="M554.6 1204.0 C553.8 1208.1 551.8 1220.3 549.8 1228.4 C547.8 1236.5 545.5 1245.3 542.5 1252.6 C539.5 1259.9 535.9 1266.8 531.6 1272.0 C527.4 1277.2 522.3 1280.6 517.0 1284.0 C511.7 1287.4 506.0 1290.3 500.0 1292.6 C494.0 1294.9 486.6 1296.6 480.8 1297.6 C475.0 1298.6 470.6 1298.8 465.0 1298.8 C459.4 1298.8 454.0 1298.6 446.9 1297.6 C439.8 1296.6 429.7 1294.9 422.6 1292.6 C415.5 1290.3 409.5 1287.4 404.5 1284.0 C399.5 1280.6 396.2 1277.2 392.4 1272.0 C388.6 1266.8 384.3 1259.9 381.5 1252.6 C378.7 1245.3 377.0 1236.5 375.4 1228.4 C373.8 1220.3 372.4 1208.1 371.8 1204.0" fill="none" stroke="#000" stroke-width="1.8" stroke-opacity="0.8"/>
<path d="M372 712 C352 735 352 775 372 800" fill="none" stroke="#333" stroke-width="0.8"/>
<path d="M407 807.5 H515" fill="none" stroke="#333" stroke-width="0.8"/>
<path d="M556 712 C580 735 580 775 556 800" fill="none" stroke="#555" stroke-width="0.8"/>
<path d="M407 699 C430 695 500 695 516 699" fill="none" stroke="#333" stroke-width="0.8"/>
<path d="M502 441.5 H523" stroke="#000" stroke-width="1.7" stroke-dasharray="6 3.5" fill="none"/>
<path d="M538.5 458 V552" stroke="#000" stroke-width="1.7" stroke-dasharray="6 3.5" fill="none"/>
<path d="M402 506.5 H592" stroke="#000" stroke-width="1.7" stroke-dasharray="6 3.5" fill="none"/>
<path d="M452 568.5 H520" stroke="#000" stroke-width="1.7" stroke-dasharray="6 3.5" fill="none"/>
<path d="M408.5 620 Q461.5 594 514.5 620" stroke="#000" stroke-width="1.7" stroke-dasharray="6 3.5" fill="none"/>
<path d="M556 640.5 H592" stroke="#000" stroke-width="1.7" stroke-dasharray="6 3.5" fill="none"/>
<path d="M352 925.5 H420" stroke="#000" stroke-width="1.7" stroke-dasharray="6 3.5" fill="none"/>
<path d="M449 913 Q485 888 523.5 916" stroke="#000" stroke-width="1.7" stroke-dasharray="6 3.5" fill="none"/>
<path d="M296 135 H488 V402" stroke="#3a3a3a" stroke-width="1" fill="none"/>
<path d="M296 243.5 H438.5 V404" stroke="#3a3a3a" stroke-width="1" fill="none"/>
<path d="M296 479.5 H317.5 V537.8 H414 L420 549" stroke="#000" stroke-width="1.3" fill="none"/>
<path d="M296 567.5 H360" stroke="#000" stroke-width="1.3" fill="none"/>
<path d="M296 750 H376" stroke="#000" stroke-width="1.3" fill="none"/>
<path d="M296 836.2 H356" stroke="#000" stroke-width="1.3" fill="none"/>
<path d="M296 883.5 H462 V870" stroke="#3a3a3a" stroke-width="1" fill="none"/>
<path d="M296 925.7 H349" stroke="#000" stroke-width="1.3" fill="none"/>
<path d="M296 1052.5 H488 V950" stroke="#3a3a3a" stroke-width="1" fill="none"/>
<path d="M296 1123.3 H382" stroke="#000" stroke-width="1.3" fill="none"/>
<path d="M517 356 V135 H631" stroke="#000" stroke-width="1.3" fill="none"/>
<path d="M555.5 425.7 L575 404.8 H630.5" stroke="#222" stroke-width="1.15" fill="none"/>
<path d="M592 506.3 H630.5" stroke="#000" stroke-width="1.3" fill="none"/>
<path d="M592 640.5 H630.5" stroke="#3a3a3a" stroke-width="1" fill="none"/>
<path d="M561.7 843.6 H608.5 V964.3 H630.5" stroke="#000" stroke-width="1.3" fill="none"/>
<path d="M543 1124.8 H630.5" stroke="#000" stroke-width="1.3" fill="none"/>
<path d="M463.5 1150 V1206.2 H630.5" stroke="#000" stroke-width="1.3" fill="none"/>
<path d="M515.1 360.2 L526.1 369.7 A16.5 16.5 0 1 1 504.1 369.7 Z" fill="#000"/>
<circle cx="517.6" cy="384.7" r="16.2" fill="url(#n38)" style="mix-blend-mode:multiply"/>
<circle cx="515.3" cy="381.9" r="16.2" fill="#000"/>
<circle cx="514.6" cy="381.2" r="16.2" fill="#000"/>
<circle cx="514.6" cy="381.2" r="14.1" fill="#fff"/>
<circle cx="514.6" cy="381.2" r="14.1" fill="url(#n55)"/>
<circle cx="514.6" cy="381.2" r="14.1" fill="url(#hl)"/>
<circle cx="375.6" cy="428.8" r="4.6" fill="#000"/>
<circle cx="375.6" cy="428.8" r="2.4" fill="#999"/>
<circle cx="375.6" cy="428.8" r="1" fill="#222"/>
<circle cx="375.6" cy="447.8" r="4.6" fill="#000"/>
<circle cx="375.6" cy="447.8" r="2.4" fill="#999"/>
<circle cx="375.6" cy="447.8" r="1" fill="#222"/>
<circle cx="438.5" cy="444.9" r="16.3" fill="url(#n38)" style="mix-blend-mode:multiply"/>
<circle cx="436.2" cy="442.1" r="16.3" fill="#000"/>
<circle cx="435.5" cy="441.4" r="16.3" fill="#000"/>
<circle cx="435.5" cy="441.4" r="14.2" fill="#fff"/>
<circle cx="435.5" cy="441.4" r="14.2" fill="url(#n55)"/>
<circle cx="435.5" cy="441.4" r="14.2" fill="url(#hl)"/>
<circle cx="488.6" cy="444.9" r="16.3" fill="url(#n38)" style="mix-blend-mode:multiply"/>
<circle cx="486.3" cy="442.1" r="16.3" fill="#000"/>
<circle cx="485.6" cy="441.4" r="16.3" fill="#000"/>
<circle cx="485.6" cy="441.4" r="14.2" fill="#fff"/>
<circle cx="485.6" cy="441.4" r="14.2" fill="url(#n55)"/>
<circle cx="485.6" cy="441.4" r="14.2" fill="url(#hl)"/>
<circle cx="542.6" cy="444.9" r="16.3" fill="url(#n38)" style="mix-blend-mode:multiply"/>
<circle cx="540.3" cy="442.1" r="16.3" fill="#000"/>
<circle cx="539.6" cy="441.4" r="16.3" fill="#000"/>
<circle cx="539.6" cy="441.4" r="14.2" fill="#fff"/>
<circle cx="539.6" cy="441.4" r="14.2" fill="url(#n55)"/>
<circle cx="539.6" cy="441.4" r="14.2" fill="url(#hl)"/>
<circle cx="388.4" cy="509.2" r="16.3" fill="url(#n38)" style="mix-blend-mode:multiply"/>
<circle cx="386.1" cy="506.4" r="16.3" fill="#000"/>
<circle cx="385.4" cy="505.7" r="16.3" fill="#000"/>
<circle cx="385.4" cy="505.7" r="14.2" fill="#fff"/>
<circle cx="385.4" cy="505.7" r="14.2" fill="url(#n78)"/>
<circle cx="385.4" cy="505.7" r="9.5" fill="url(#wc)"/>
<circle cx="438.5" cy="509.2" r="16.3" fill="url(#n38)" style="mix-blend-mode:multiply"/>
<circle cx="436.2" cy="506.4" r="16.3" fill="#000"/>
<circle cx="435.5" cy="505.7" r="16.3" fill="#000"/>
<circle cx="435.5" cy="505.7" r="14.2" fill="#fff"/>
<circle cx="435.5" cy="505.7" r="14.2" fill="url(#n55)"/>
<circle cx="435.5" cy="505.7" r="14.2" fill="url(#hl)"/>
<circle cx="488.6" cy="509.2" r="16.3" fill="url(#n38)" style="mix-blend-mode:multiply"/>
<circle cx="486.3" cy="506.4" r="16.3" fill="#000"/>
<circle cx="485.6" cy="505.7" r="16.3" fill="#000"/>
<circle cx="485.6" cy="505.7" r="14.2" fill="#fff"/>
<circle cx="485.6" cy="505.7" r="14.2" fill="url(#n14)"/>
<circle cx="485.6" cy="505.7" r="14.2" fill="url(#hl)"/>
<circle cx="485.6" cy="505.7" r="10" fill="url(#wc)"/>
<circle cx="539.6" cy="509.2" r="16.3" fill="url(#n38)" style="mix-blend-mode:multiply"/>
<circle cx="537.3" cy="506.4" r="16.3" fill="#000"/>
<circle cx="536.6" cy="505.7" r="16.3" fill="#000"/>
<circle cx="536.6" cy="505.7" r="14.2" fill="#fff"/>
<circle cx="536.6" cy="505.7" r="14.2" fill="url(#n78)"/>
<path d="M532.5 499.5 L543 505.7 L532.5 512 Z" fill="#fff" opacity="0.85"/>
<circle cx="388.4" cy="571.8" r="16.3" fill="url(#n38)" style="mix-blend-mode:multiply"/>
<circle cx="386.1" cy="569.0" r="16.3" fill="#000"/>
<circle cx="385.4" cy="568.3" r="16.3" fill="#000"/>
<circle cx="385.4" cy="568.3" r="14.2" fill="#fff"/>
<circle cx="385.4" cy="568.3" r="14.2" fill="url(#n55)"/>
<circle cx="385.4" cy="568.3" r="14.2" fill="url(#hl)"/>
<circle cx="438.5" cy="571.8" r="16.3" fill="url(#n38)" style="mix-blend-mode:multiply"/>
<circle cx="436.2" cy="569.0" r="16.3" fill="#000"/>
<circle cx="435.5" cy="568.3" r="16.3" fill="#000"/>
<circle cx="435.5" cy="568.3" r="14.2" fill="#fff"/>
<circle cx="435.5" cy="568.3" r="14.2" fill="url(#n55)"/>
<circle cx="435.5" cy="568.3" r="14.2" fill="url(#hl)"/>
<circle cx="488.6" cy="571.8" r="16.3" fill="url(#n38)" style="mix-blend-mode:multiply"/>
<circle cx="486.3" cy="569.0" r="16.3" fill="#000"/>
<circle cx="485.6" cy="568.3" r="16.3" fill="#000"/>
<circle cx="485.6" cy="568.3" r="14.2" fill="#fff"/>
<circle cx="485.6" cy="568.3" r="14.2" fill="url(#n55)"/>
<circle cx="485.6" cy="568.3" r="14.2" fill="url(#hl)"/>
<circle cx="539.6" cy="571.8" r="16.3" fill="url(#n38)" style="mix-blend-mode:multiply"/>
<circle cx="537.3" cy="569.0" r="16.3" fill="#000"/>
<circle cx="536.6" cy="568.3" r="16.3" fill="#000"/>
<circle cx="536.6" cy="568.3" r="14.2" fill="#fff"/>
<circle cx="536.6" cy="568.3" r="14.2" fill="url(#n55)"/>
<circle cx="536.6" cy="568.3" r="14.2" fill="url(#hl)"/>
<rect x="369.4" y="632.0" width="49.5" height="27.5" rx="13.8" fill="url(#n38)" style="mix-blend-mode:multiply"/>
<rect x="367.2" y="629.3" width="49.5" height="27.5" rx="13.8" fill="#000"/>
<rect x="366.4" y="628.5" width="49.5" height="27.5" rx="13.8" fill="#000"/>
<rect x="368.8" y="630.9" width="44.7" height="22.7" rx="11.3" fill="#fff"/>
<rect x="368.8" y="630.9" width="44.7" height="22.7" rx="11.3" fill="url(#n55)"/>
<rect x="368.8" y="630.9" width="44.7" height="22.7" rx="11.3" fill="url(#hlp)"/>
<rect x="438.9" y="632.0" width="50.0" height="27.5" rx="13.8" fill="url(#n38)" style="mix-blend-mode:multiply"/>
<rect x="436.7" y="629.3" width="50.0" height="27.5" rx="13.8" fill="#000"/>
<rect x="435.9" y="628.5" width="50.0" height="27.5" rx="13.8" fill="#000"/>
<rect x="438.3" y="630.9" width="45.2" height="22.7" rx="11.3" fill="#fff"/>
<rect x="438.3" y="630.9" width="45.2" height="22.7" rx="11.3" fill="url(#n55)"/>
<rect x="438.3" y="630.9" width="45.2" height="22.7" rx="11.3" fill="url(#hlp)"/>
<rect x="509.2" y="632.0" width="49.5" height="27.5" rx="13.8" fill="url(#n38)" style="mix-blend-mode:multiply"/>
<rect x="507.1" y="629.3" width="49.5" height="27.5" rx="13.8" fill="#000"/>
<rect x="506.2" y="628.5" width="49.5" height="27.5" rx="13.8" fill="#000"/>
<rect x="508.6" y="630.9" width="44.7" height="22.7" rx="11.3" fill="#fff"/>
<rect x="508.6" y="630.9" width="44.7" height="22.7" rx="11.3" fill="url(#n55)"/>
<rect x="508.6" y="630.9" width="44.7" height="22.7" rx="11.3" fill="url(#hlp)"/>
<circle cx="390.3" cy="703.2" r="20.0" fill="url(#n38)" style="mix-blend-mode:multiply"/>
<circle cx="388.0" cy="700.4" r="20.0" fill="#000"/>
<circle cx="387.3" cy="699.7" r="20.0" fill="#000"/>
<circle cx="387.3" cy="699.7" r="17.9" fill="#fff"/>
<circle cx="387.3" cy="699.7" r="17.9" fill="url(#n55)"/>
<circle cx="387.3" cy="699.7" r="17.9" fill="url(#hl)"/>
<circle cx="538.8" cy="703.2" r="20.0" fill="url(#n38)" style="mix-blend-mode:multiply"/>
<circle cx="536.5" cy="700.4" r="20.0" fill="#000"/>
<circle cx="535.8" cy="699.7" r="20.0" fill="#000"/>
<circle cx="535.8" cy="699.7" r="17.9" fill="#fff"/>
<circle cx="535.8" cy="699.7" r="17.9" fill="url(#n55)"/>
<circle cx="535.8" cy="699.7" r="17.9" fill="url(#hl)"/>
<rect x="440.1" y="705.2" width="49.5" height="28.5" rx="14.2" fill="url(#n38)" style="mix-blend-mode:multiply"/>
<rect x="437.9" y="702.5" width="49.5" height="28.5" rx="14.2" fill="#000"/>
<rect x="437.1" y="701.8" width="49.5" height="28.5" rx="14.2" fill="#000"/>
<rect x="439.4" y="704.1" width="44.7" height="23.7" rx="11.8" fill="#fff"/>
<rect x="439.4" y="704.1" width="44.7" height="23.7" rx="11.8" fill="url(#n65)"/>
<rect x="439.4" y="704.1" width="44.7" height="23.7" rx="11.8" fill="url(#hlp)"/>
<rect x="386.9" y="739.5" width="49.0" height="28.5" rx="14.2" fill="url(#n38)" style="mix-blend-mode:multiply"/>
<rect x="384.7" y="736.8" width="49.0" height="28.5" rx="14.2" fill="#000"/>
<rect x="383.9" y="736.0" width="49.0" height="28.5" rx="14.2" fill="#000"/>
<rect x="386.3" y="738.4" width="44.2" height="23.7" rx="11.8" fill="#fff"/>
<rect x="386.3" y="738.4" width="44.2" height="23.7" rx="11.8" fill="url(#n65)"/>
<rect x="386.3" y="738.4" width="44.2" height="23.7" rx="11.8" fill="url(#hlp)"/>
<rect x="491.5" y="739.5" width="49.5" height="28.5" rx="14.2" fill="url(#n38)" style="mix-blend-mode:multiply"/>
<rect x="489.3" y="736.8" width="49.5" height="28.5" rx="14.2" fill="#000"/>
<rect x="488.5" y="736.0" width="49.5" height="28.5" rx="14.2" fill="#000"/>
<rect x="490.9" y="738.4" width="44.7" height="23.7" rx="11.8" fill="#fff"/>
<rect x="490.9" y="738.4" width="44.7" height="23.7" rx="11.8" fill="url(#n65)"/>
<rect x="490.9" y="738.4" width="44.7" height="23.7" rx="11.8" fill="url(#hlp)"/>
<rect x="440.1" y="773.2" width="49.5" height="28.5" rx="14.2" fill="url(#n38)" style="mix-blend-mode:multiply"/>
<rect x="437.9" y="770.5" width="49.5" height="28.5" rx="14.2" fill="#000"/>
<rect x="437.1" y="769.8" width="49.5" height="28.5" rx="14.2" fill="#000"/>
<rect x="439.4" y="772.1" width="44.7" height="23.7" rx="11.8" fill="#fff"/>
<rect x="439.4" y="772.1" width="44.7" height="23.7" rx="11.8" fill="url(#n65)"/>
<rect x="439.4" y="772.1" width="44.7" height="23.7" rx="11.8" fill="url(#hlp)"/>
<path d="M454 720 L461.8 712.5 L469.5 720" fill="none" stroke="#fff" stroke-width="2.4" stroke-linecap="round" stroke-linejoin="round"/>
<path d="M454 780.5 L461.8 788 L469.5 780.5" fill="none" stroke="#fff" stroke-width="2.4" stroke-linecap="round" stroke-linejoin="round"/>
<path d="M411.5 743 L403.5 750.3 L411.5 757.6" fill="none" stroke="#fff" stroke-width="2.4" stroke-linecap="round" stroke-linejoin="round"/>
<path d="M510.3 743 L518.3 750.3 L510.3 757.6" fill="none" stroke="#fff" stroke-width="2.4" stroke-linecap="round" stroke-linejoin="round"/>
<circle cx="390.0" cy="810.8" r="19.8" fill="url(#n38)" style="mix-blend-mode:multiply"/>
<circle cx="387.7" cy="808.0" r="19.8" fill="#000"/>
<circle cx="387.0" cy="807.3" r="19.8" fill="#000"/>
<circle cx="387.0" cy="807.3" r="17.7" fill="#fff"/>
<circle cx="387.0" cy="807.3" r="17.7" fill="url(#n55)"/>
<circle cx="387.0" cy="807.3" r="17.7" fill="url(#hl)"/>
<circle cx="537.7" cy="810.8" r="19.8" fill="url(#n38)" style="mix-blend-mode:multiply"/>
<circle cx="535.4" cy="808.0" r="19.8" fill="#000"/>
<circle cx="534.7" cy="807.3" r="19.8" fill="#000"/>
<circle cx="534.7" cy="807.3" r="17.7" fill="#fff"/>
<circle cx="534.7" cy="807.3" r="17.7" fill="url(#n55)"/>
<circle cx="534.7" cy="807.3" r="17.7" fill="url(#hl)"/>
<circle cx="412.0" cy="857.1" r="16.5" fill="url(#n38)" style="mix-blend-mode:multiply"/>
<circle cx="409.7" cy="854.3" r="16.5" fill="#000"/>
<circle cx="409.0" cy="853.6" r="16.5" fill="#000"/>
<circle cx="409.0" cy="853.6" r="14.4" fill="#fff"/>
<circle cx="409.0" cy="853.6" r="14.4" fill="url(#n55)"/>
<circle cx="409.0" cy="853.6" r="14.4" fill="url(#hl)"/>
<circle cx="464.0" cy="849.1" r="16.7" fill="url(#n38)" style="mix-blend-mode:multiply"/>
<circle cx="461.7" cy="846.3" r="16.7" fill="#000"/>
<circle cx="461.0" cy="845.6" r="16.7" fill="#000"/>
<circle cx="461.0" cy="845.6" r="14.6" fill="#fff"/>
<circle cx="461.0" cy="845.6" r="14.6" fill="url(#n55)"/>
<circle cx="461.0" cy="845.6" r="14.6" fill="url(#hl)"/>
<circle cx="515.3" cy="857.1" r="16.5" fill="url(#n38)" style="mix-blend-mode:multiply"/>
<circle cx="513.0" cy="854.3" r="16.5" fill="#000"/>
<circle cx="512.3" cy="853.6" r="16.5" fill="#000"/>
<circle cx="512.3" cy="853.6" r="14.4" fill="#fff"/>
<circle cx="512.3" cy="853.6" r="14.4" fill="url(#n55)"/>
<circle cx="512.3" cy="853.6" r="14.4" fill="url(#hl)"/>
<circle cx="388.4" cy="929.2" r="16.6" fill="url(#n38)" style="mix-blend-mode:multiply"/>
<circle cx="386.1" cy="926.4" r="16.6" fill="#000"/>
<circle cx="385.4" cy="925.7" r="16.6" fill="#000"/>
<circle cx="385.4" cy="925.7" r="14.5" fill="#fff"/>
<circle cx="385.4" cy="925.7" r="14.5" fill="url(#n55)"/>
<circle cx="385.4" cy="925.7" r="14.5" fill="url(#hl)"/>
<circle cx="438.5" cy="929.2" r="16.6" fill="url(#n38)" style="mix-blend-mode:multiply"/>
<circle cx="436.2" cy="926.4" r="16.6" fill="#000"/>
<circle cx="435.5" cy="925.7" r="16.6" fill="#000"/>
<circle cx="435.5" cy="925.7" r="14.5" fill="#fff"/>
<circle cx="435.5" cy="925.7" r="14.5" fill="url(#n55)"/>
<circle cx="435.5" cy="925.7" r="14.5" fill="url(#hl)"/>
<circle cx="488.6" cy="929.2" r="16.6" fill="url(#n38)" style="mix-blend-mode:multiply"/>
<circle cx="486.3" cy="926.4" r="16.6" fill="#000"/>
<circle cx="485.6" cy="925.7" r="16.6" fill="#000"/>
<circle cx="485.6" cy="925.7" r="14.5" fill="#fff"/>
<circle cx="485.6" cy="925.7" r="14.5" fill="url(#n55)"/>
<circle cx="485.6" cy="925.7" r="14.5" fill="url(#hl)"/>
<circle cx="539.6" cy="929.2" r="16.6" fill="url(#n38)" style="mix-blend-mode:multiply"/>
<circle cx="537.3" cy="926.4" r="16.6" fill="#000"/>
<circle cx="536.6" cy="925.7" r="16.6" fill="#000"/>
<circle cx="536.6" cy="925.7" r="14.5" fill="#fff"/>
<circle cx="536.6" cy="925.7" r="14.5" fill="url(#n55)"/>
<circle cx="536.6" cy="925.7" r="14.5" fill="url(#hl)"/>
<circle cx="396.7" cy="987.2" r="16.2" fill="url(#n38)" style="mix-blend-mode:multiply"/>
<circle cx="394.4" cy="984.4" r="16.2" fill="#000"/>
<circle cx="393.7" cy="983.7" r="16.2" fill="#000"/>
<circle cx="393.7" cy="983.7" r="14.1" fill="#fff"/>
<circle cx="393.7" cy="983.7" r="14.1" fill="url(#n55)"/>
<circle cx="393.7" cy="983.7" r="14.1" fill="url(#hl)"/>
<text x="393.7" y="989.2" font-size="15.0" font-weight="bold" fill="#fff" text-anchor="middle" stroke="#000" stroke-width="1.6" stroke-opacity="0.75" paint-order="stroke">1</text>
<circle cx="465.0" cy="987.2" r="16.2" fill="url(#n38)" style="mix-blend-mode:multiply"/>
<circle cx="462.7" cy="984.4" r="16.2" fill="#000"/>
<circle cx="462.0" cy="983.7" r="16.2" fill="#000"/>
<circle cx="462.0" cy="983.7" r="14.1" fill="#fff"/>
<circle cx="462.0" cy="983.7" r="14.1" fill="url(#n55)"/>
<circle cx="462.0" cy="983.7" r="14.1" fill="url(#hl)"/>
<text x="462.0" y="989.2" font-size="15.0" font-weight="bold" fill="#fff" text-anchor="middle" stroke="#000" stroke-width="1.6" stroke-opacity="0.75" paint-order="stroke">2</text>
<circle cx="533.1" cy="987.2" r="16.2" fill="url(#n38)" style="mix-blend-mode:multiply"/>
<circle cx="530.8" cy="984.4" r="16.2" fill="#000"/>
<circle cx="530.1" cy="983.7" r="16.2" fill="#000"/>
<circle cx="530.1" cy="983.7" r="14.1" fill="#fff"/>
<circle cx="530.1" cy="983.7" r="14.1" fill="url(#n55)"/>
<circle cx="530.1" cy="983.7" r="14.1" fill="url(#hl)"/>
<text x="530.1" y="989.2" font-size="15.0" font-weight="bold" fill="#fff" text-anchor="middle" stroke="#000" stroke-width="1.6" stroke-opacity="0.75" paint-order="stroke">3</text>
<circle cx="401.0" cy="1033.8" r="16.2" fill="url(#n38)" style="mix-blend-mode:multiply"/>
<circle cx="398.7" cy="1031.0" r="16.2" fill="#000"/>
<circle cx="398.0" cy="1030.3" r="16.2" fill="#000"/>
<circle cx="398.0" cy="1030.3" r="14.1" fill="#fff"/>
<circle cx="398.0" cy="1030.3" r="14.1" fill="url(#n55)"/>
<circle cx="398.0" cy="1030.3" r="14.1" fill="url(#hl)"/>
<text x="398.0" y="1035.8" font-size="15.0" font-weight="bold" fill="#fff" text-anchor="middle" stroke="#000" stroke-width="1.6" stroke-opacity="0.75" paint-order="stroke">4</text>
<circle cx="465.0" cy="1033.8" r="16.2" fill="url(#n38)" style="mix-blend-mode:multiply"/>
<circle cx="462.7" cy="1031.0" r="16.2" fill="#000"/>
<circle cx="462.0" cy="1030.3" r="16.2" fill="#000"/>
<circle cx="462.0" cy="1030.3" r="14.1" fill="#fff"/>
<circle cx="462.0" cy="1030.3" r="14.1" fill="url(#n55)"/>
<circle cx="462.0" cy="1030.3" r="14.1" fill="url(#hl)"/>
<text x="462.0" y="1035.8" font-size="15.0" font-weight="bold" fill="#fff" text-anchor="middle" stroke="#000" stroke-width="1.6" stroke-opacity="0.75" paint-order="stroke">5</text>
<circle cx="528.4" cy="1033.8" r="16.2" fill="url(#n38)" style="mix-blend-mode:multiply"/>
<circle cx="526.1" cy="1031.0" r="16.2" fill="#000"/>
<circle cx="525.4" cy="1030.3" r="16.2" fill="#000"/>
<circle cx="525.4" cy="1030.3" r="14.1" fill="#fff"/>
<circle cx="525.4" cy="1030.3" r="14.1" fill="url(#n55)"/>
<circle cx="525.4" cy="1030.3" r="14.1" fill="url(#hl)"/>
<text x="525.4" y="1035.8" font-size="15.0" font-weight="bold" fill="#fff" text-anchor="middle" stroke="#000" stroke-width="1.6" stroke-opacity="0.75" paint-order="stroke">6</text>
<circle cx="405.0" cy="1079.5" r="16.2" fill="url(#n38)" style="mix-blend-mode:multiply"/>
<circle cx="402.7" cy="1076.7" r="16.2" fill="#000"/>
<circle cx="402.0" cy="1076.0" r="16.2" fill="#000"/>
<circle cx="402.0" cy="1076.0" r="14.1" fill="#fff"/>
<circle cx="402.0" cy="1076.0" r="14.1" fill="url(#n55)"/>
<circle cx="402.0" cy="1076.0" r="14.1" fill="url(#hl)"/>
<text x="402.0" y="1081.5" font-size="15.0" font-weight="bold" fill="#fff" text-anchor="middle" stroke="#000" stroke-width="1.6" stroke-opacity="0.75" paint-order="stroke">7</text>
<circle cx="464.5" cy="1079.5" r="16.2" fill="url(#n38)" style="mix-blend-mode:multiply"/>
<circle cx="462.2" cy="1076.7" r="16.2" fill="#000"/>
<circle cx="461.5" cy="1076.0" r="16.2" fill="#000"/>
<circle cx="461.5" cy="1076.0" r="14.1" fill="#fff"/>
<circle cx="461.5" cy="1076.0" r="14.1" fill="url(#n55)"/>
<circle cx="461.5" cy="1076.0" r="14.1" fill="url(#hl)"/>
<text x="461.5" y="1081.5" font-size="15.0" font-weight="bold" fill="#fff" text-anchor="middle" stroke="#000" stroke-width="1.6" stroke-opacity="0.75" paint-order="stroke">8</text>
<circle cx="524.9" cy="1079.5" r="16.2" fill="url(#n38)" style="mix-blend-mode:multiply"/>
<circle cx="522.6" cy="1076.7" r="16.2" fill="#000"/>
<circle cx="521.9" cy="1076.0" r="16.2" fill="#000"/>
<circle cx="521.9" cy="1076.0" r="14.1" fill="#fff"/>
<circle cx="521.9" cy="1076.0" r="14.1" fill="url(#n55)"/>
<circle cx="521.9" cy="1076.0" r="14.1" fill="url(#hl)"/>
<text x="521.9" y="1081.5" font-size="15.0" font-weight="bold" fill="#fff" text-anchor="middle" stroke="#000" stroke-width="1.6" stroke-opacity="0.75" paint-order="stroke">9</text>
<circle cx="409.0" cy="1127.1" r="16.2" fill="url(#n38)" style="mix-blend-mode:multiply"/>
<circle cx="406.7" cy="1124.3" r="16.2" fill="#000"/>
<circle cx="406.0" cy="1123.6" r="16.2" fill="#000"/>
<circle cx="406.0" cy="1123.6" r="14.1" fill="#fff"/>
<circle cx="406.0" cy="1123.6" r="14.1" fill="url(#n55)"/>
<circle cx="406.0" cy="1123.6" r="14.1" fill="url(#hl)"/>
<circle cx="465.0" cy="1127.1" r="16.2" fill="url(#n38)" style="mix-blend-mode:multiply"/>
<circle cx="462.7" cy="1124.3" r="16.2" fill="#000"/>
<circle cx="462.0" cy="1123.6" r="16.2" fill="#000"/>
<circle cx="462.0" cy="1123.6" r="14.1" fill="#fff"/>
<circle cx="462.0" cy="1123.6" r="14.1" fill="url(#n55)"/>
<circle cx="462.0" cy="1123.6" r="14.1" fill="url(#hl)"/>
<text x="462.0" y="1129.1" font-size="15.0" font-weight="bold" fill="#fff" text-anchor="middle" stroke="#000" stroke-width="1.6" stroke-opacity="0.75" paint-order="stroke">0</text>
<circle cx="519.9" cy="1127.1" r="16.2" fill="url(#n38)" style="mix-blend-mode:multiply"/>
<circle cx="517.6" cy="1124.3" r="16.2" fill="#000"/>
<circle cx="516.9" cy="1123.6" r="16.2" fill="#000"/>
<circle cx="516.9" cy="1123.6" r="14.1" fill="#fff"/>
<circle cx="516.9" cy="1123.6" r="14.1" fill="url(#n55)"/>
<circle cx="516.9" cy="1123.6" r="14.1" fill="url(#hl)"/>
<text x="385.4" y="930.7" font-size="12.0" font-weight="bold" fill="#fff" text-anchor="middle" textLength="17.0" lengthAdjust="spacingAndGlyphs" stroke="#000" stroke-width="1.6" stroke-opacity="0.75" paint-order="stroke">PC</text>
<text x="435.5" y="930.7" font-size="12.0" font-weight="bold" fill="#fff" text-anchor="middle" textLength="16.0" lengthAdjust="spacingAndGlyphs" stroke="#000" stroke-width="1.6" stroke-opacity="0.75" paint-order="stroke">TV</text>
<rect x="528" y="920" width="17" height="11.5" fill="#000" fill-opacity="0.5" stroke="#000" stroke-width="3.4" stroke-opacity="0.6"/>
<rect x="528" y="920" width="17" height="11.5" fill="none" stroke="#fff" stroke-width="2"/>
<path d="M531 920 L537 914.5" stroke="#fff" stroke-width="1.8" fill="none"/>
<path d="M531 926 H542" stroke="#fff" stroke-width="2.2" stroke-dasharray="2.4 1.2" fill="none"/>
<rect x="478.5" y="920.5" width="14" height="9" fill="none" stroke="#fff" stroke-width="1.3" opacity="0.8"/>
<rect x="397.5" y="1118" width="17" height="11" rx="1.5" fill="none" stroke="#fff" stroke-width="1.5"/>
<rect x="403" y="1121" width="6" height="5" fill="none" stroke="#fff" stroke-width="1.2"/>
<text x="516.9" y="1128.6" font-size="12.0" font-weight="bold" fill="#fff" text-anchor="middle" textLength="20.0" lengthAdjust="spacingAndGlyphs" stroke="#000" stroke-width="1.6" stroke-opacity="0.75" paint-order="stroke">P‹P</text>
<path d="M380 807.3 H394 M387 800.3 V814.3" stroke="#fff" stroke-width="2" fill="none" opacity="0.8"/>
<path d="M527.7 807.3 H541.7 M534.7 800.3 V814.3" stroke="#fff" stroke-width="2" fill="none" opacity="0.8"/>
<path d="M402.5 853.6 H415.5" stroke="#fff" stroke-width="2" fill="none" opacity="0.8"/>
<path d="M505.8 853.6 H518.8" stroke="#fff" stroke-width="2" fill="none" opacity="0.8"/>
<path d="M455.5 840 L466.5 851 M466.5 840 L455.5 851" stroke="#fff" stroke-width="2" fill="none" opacity="0.8"/>
<circle cx="514.6" cy="381.5" r="5.5" fill="none" stroke="#fff" stroke-width="1.3" opacity="0.8"/>
<rect x="451" y="635.5" width="19.5" height="13" rx="2" fill="#fff"/>
<path d="M455 640 a2 2 0 1 0 4 0 a2 2 0 1 0 -4 0 M462.5 640 a2 2 0 1 0 4 0 a2 2 0 1 0 -4 0 M455 645.5 H467" stroke="#000" stroke-width="1.1" fill="none"/>
<rect x="383" y="637" width="16" height="10.5" rx="2" fill="none" stroke="#fff" stroke-width="1.2" opacity="0.75"/>
<path d="M523 642.5 h6 l5 -4.5 v9 l-5 -4.5 M537 638.5 q3 4 0 8" fill="none" stroke="#fff" stroke-width="1.2" opacity="0.75"/>
<path d="M379 694.5 H396 M379 699.5 H396 M379 704.5 H396" stroke="#fff" stroke-width="1.3" opacity="0.7"/>
<path d="M535.8 692 l3.5 9 h-7 z M529 706 l4 -3 M542.5 706 l-4 -3" fill="#fff" stroke="#fff" stroke-width="1.2" opacity="0.9"/>
<rect x="429.0" y="436" width="13" height="10" fill="none" stroke="#fff" stroke-width="1.2" opacity="0.7"/>
<rect x="479.1" y="436" width="13" height="10" fill="none" stroke="#fff" stroke-width="1.2" opacity="0.7"/>
<rect x="533.1" y="436" width="13" height="10" fill="none" stroke="#fff" stroke-width="1.2" opacity="0.7"/>
<rect x="378.9" y="563.3" width="13" height="10" fill="none" stroke="#fff" stroke-width="1.2" opacity="0.7"/>
<rect x="429.0" y="563.3" width="13" height="10" fill="none" stroke="#fff" stroke-width="1.2" opacity="0.7"/>
<rect x="479.1" y="563.3" width="13" height="10" fill="none" stroke="#fff" stroke-width="1.2" opacity="0.7"/>
<rect x="530.1" y="563.3" width="13" height="10" fill="none" stroke="#fff" stroke-width="1.2" opacity="0.7"/>
<rect x="429" y="500.5" width="13" height="10" fill="none" stroke="#fff" stroke-width="1.2" opacity="0.7"/>
<text x="386.0" y="433.0" font-size="10.0" font-weight="bold" fill="#000" text-anchor="start" textLength="21.5" lengthAdjust="spacingAndGlyphs" stroke="#000" stroke-width="0.45">VCR</text>
<text x="386.0" y="451.5" font-size="10.0" font-weight="bold" fill="#000" text-anchor="start" textLength="21.5" lengthAdjust="spacingAndGlyphs" stroke="#000" stroke-width="0.45">DVD</text>
<text x="422.0" y="421.8" font-size="10.0" font-weight="bold" fill="#000" text-anchor="start" textLength="27.7" lengthAdjust="spacingAndGlyphs" stroke="#000" stroke-width="0.45">MODE</text>
<text x="374.5" y="624.4" font-size="9.5" font-weight="bold" fill="#000" text-anchor="start" textLength="32.5" lengthAdjust="spacingAndGlyphs" stroke="#000" stroke-width="0.45">SMART</text>
<text x="443.8" y="624.4" font-size="9.5" font-weight="bold" fill="#000" text-anchor="start" textLength="32.5" lengthAdjust="spacingAndGlyphs" stroke="#000" stroke-width="0.45">ACTIVE</text>
<text x="514.5" y="624.4" font-size="9.5" font-weight="bold" fill="#000" text-anchor="start" textLength="33.5" lengthAdjust="spacingAndGlyphs" stroke="#000" stroke-width="0.45">SMART</text>
<text x="447.3" y="824.5" font-size="9.5" font-weight="bold" fill="#000" text-anchor="start" textLength="26.0" lengthAdjust="spacingAndGlyphs" stroke="#000" stroke-width="0.45">MUTE</text>
<text x="379.0" y="903.7" font-size="9.5" font-weight="bold" fill="#000" text-anchor="start" textLength="11.7" lengthAdjust="spacingAndGlyphs" stroke="#000" stroke-width="0.45">OK</text>
<text x="521.0" y="903.7" font-size="9.5" font-weight="bold" fill="#000" text-anchor="start" textLength="28.3" lengthAdjust="spacingAndGlyphs" stroke="#000" stroke-width="0.45">RADIO</text>
<text x="542.0" y="851.0" font-size="14.0" font-weight="bold" fill="#000" text-anchor="start" textLength="8.5" lengthAdjust="spacingAndGlyphs" stroke="#000" stroke-width="0.45">P</text>
<path d="M362.5 848 L380 839.5 V848 Z" fill="none" stroke="#000" stroke-width="1.2"/>
<rect x="479.5" y="411.5" width="13" height="9" fill="#fff" stroke="#000" stroke-width="1"/>
<text x="486.0" y="419.5" font-size="8.5" font-weight="bold" fill="#000" text-anchor="middle" stroke="#000" stroke-width="0.45">?</text>
<rect x="534.5" y="411" width="12.5" height="10" rx="1.5" fill="#fff" stroke="#000" stroke-width="1"/>
<path d="M536.5 414.3 H545 M536.5 417.5 H545" stroke="#000" stroke-width="1"/>
<rect x="429.5" y="476.5" width="13.5" height="9" fill="#fff" stroke="#000" stroke-width="1"/>
<rect x="437.5" y="474.5" width="5.5" height="6" fill="#000"/>
<rect x="479" y="476.5" width="13" height="9" fill="#fff" stroke="#000" stroke-width="1"/>
<path d="M481 480 H490 M481 483 H490 M487 476.5 V485" stroke="#000" stroke-width="1.2"/>
<rect x="428" y="539.3" width="13" height="7" fill="#fff" stroke="#000" stroke-width="1"/>
<path d="M430 541.5 H439 M430 544 H439 M434.5 539 V546" stroke="#000" stroke-width="1.1"/>
<path d="M483.5 540.3 V546.3 M488 540.3 V546.3" stroke="#000" stroke-width="1.8"/>
<circle cx="437.9" cy="404.0" r="3.2" fill="#000"/>
<circle cx="487.3" cy="402.0" r="3.2" fill="#000"/>
<circle cx="516.9" cy="356.5" r="3.2" fill="#000"/>
<circle cx="554.9" cy="425.8" r="3.2" fill="#000"/>
<circle cx="420.2" cy="549.2" r="3.2" fill="#000"/>
<circle cx="360.2" cy="567.5" r="3.2" fill="#000"/>
<circle cx="376.5" cy="750.0" r="3.2" fill="#000"/>
<circle cx="356.8" cy="836.2" r="3.2" fill="#000"/>
<circle cx="561.7" cy="843.6" r="3.2" fill="#000"/>
<circle cx="462.0" cy="870.0" r="3.2" fill="#000"/>
<circle cx="488.0" cy="949.8" r="3.2" fill="#000"/>
<circle cx="382.5" cy="1123.3" r="3.2" fill="#000"/>
<circle cx="543.1" cy="1124.8" r="3.2" fill="#000"/>
<circle cx="463.5" cy="1149.8" r="3.2" fill="#000"/>
</svg>
<div class="t b" id="t0" style="left:92.9px;top:123.9px;transform:scaleX(1.0515);">Select peripherals (p.14)</div>
<div class="t r" id="t1" style="left:49.6px;top:145.3px;transform:scaleX(1.0626);">Press several times to select the</div>
<div class="t r" id="t2" style="left:103.1px;top:166.8px;transform:scaleX(1.1044);">required EXT connector.</div>
<div class="t b" id="t3" style="left:108.1px;top:230.9px;transform:scaleX(1.1266);">Mode selector (p. 13)</div>
<div class="t r" id="t4" style="left:41.7px;top:252.5px;transform:scaleX(1.1151);">To activate the remote control in</div>
<div class="t r" id="t5" style="left:35.4px;top:274.0px;transform:scaleX(1.1206);">TV,VCR (video recorder) or DVD</div>
<div class="t r" id="t6" style="left:239.7px;top:295.4px;transform:scaleX(1.1069);">mode.</div>
<div class="t b" id="t7" style="left:179.1px;top:337.5px;transform:scaleX(1.1105);">Sound mode</div>
<div class="t r" id="t8" style="left:18.7px;top:359.0px;transform:scaleX(1.0003);">Used to force programmes in STEREO</div>
<div class="t r" id="t9" style="left:30.7px;top:380.6px;transform:scaleX(1.0691);">and NICAM STEREO to MONO or,</div>
<div class="t r" id="t10" style="left:22.8px;top:402.1px;transform:scaleX(1.0710);">for bilingual programmes, to choose</div>
<div class="t r" id="t11" style="left:77.4px;top:423.6px;transform:scaleX(1.0862);">between DUAL I or DUAL II.</div>
<div class="t i" id="t12" style="left:44.9px;top:445.1px;transform:scaleX(0.9546);">When the sound mode is switched to</div>
<div class="t i" id="t13" style="left:21.1px;top:466.4px;transform:scaleX(0.9457);">MONO, the indication is displayed in red.</div>
<div class="t b" id="t14" style="left:192.1px;top:507.1px;transform:scaleX(1.1563);">Sleeptimer</div>
<div class="t r" id="t15" style="left:33.1px;top:528.8px;transform:scaleX(1.0901);">To select the length of time before</div>
<div class="t r" id="t16" style="left:41.1px;top:550.5px;transform:scaleX(1.0840);">the set  automatically switches to</div>
<div class="t r" id="t17" style="left:48.1px;top:572.0px;transform:scaleX(1.0936);">standby (from 0 to 240 minutes)</div>
<div class="t b" id="t18" style="left:165.8px;top:608.2px;transform:scaleX(1.1398);">Active control</div>
<div class="t r" id="t19" style="left:24.4px;top:629.8px;transform:scaleX(1.1030);">Optimizes the quality of the picture</div>
<div class="t r" id="t20" style="left:13.3px;top:651.6px;transform:scaleX(1.1007);">according to the quality of reception.</div>
<div class="t b" id="t21" style="left:239.1px;top:681.5px;transform:scaleX(1.1560);">Menu</div>
<div class="t r" id="t22" style="left:76.5px;top:703.0px;transform:scaleX(1.0927);">To call up or exit the menus.</div>
<div class="t b" id="t23" style="left:227.1px;top:738.3px;transform:scaleX(1.1496);">Cursor</div>
<div class="t r" id="t24" style="left:58.5px;top:759.9px;transform:scaleX(1.0552);">These 4 keys are used to move</div>
<div class="t r" id="t25" style="left:149.1px;top:781.4px;transform:scaleX(1.0699);">around the menus.</div>
<div class="t b" id="t26" style="left:221.7px;top:808.7px;transform:scaleX(1.1606);">Volume</div>
<div class="t r" id="t27" style="left:104.9px;top:830.3px;transform:scaleX(1.0696);">To adjust the sound level</div>
<div class="t b" id="t28" style="left:242.1px;top:859.2px;transform:scaleX(1.2136);">Mute</div>
<div class="t r" id="t29" style="left:62.1px;top:880.6px;transform:scaleX(1.1128);">To mute or restore the sound.</div>
<div class="t b" id="t30" style="left:158.6px;top:915.5px;transform:scaleX(1.1318);">PC / TV / Radio</div>
<div class="t r" id="t31" style="left:40.8px;top:937.2px;transform:scaleX(1.0690);">Press one of these keys to switch</div>
<div class="t r" id="t32" style="left:43.3px;top:958.8px;transform:scaleX(1.0796);">the television between PC, TV or</div>
<div class="t r" id="t33" style="left:156.1px;top:980.3px;transform:scaleX(1.0732);">radio mode (p. 8).</div>
<div class="t b" id="t34" style="left:130.1px;top:1039.2px;transform:scaleX(1.1203);">16:9 formats</div>
<div class="t r" id="t35" style="left:240.6px;top:1039.3px;transform:scaleX(1.0444);">(p. 12)</div>
<div class="t b" id="t36" style="left:122.1px;top:1111.9px;transform:scaleX(1.1336);">Screen information</div>
<div class="t r" id="t37" style="left:30.7px;top:1133.5px;transform:scaleX(1.0538);">To display / remove the programme</div>
<div class="t r" id="t38" style="left:43.3px;top:1155.0px;transform:scaleX(1.0455);">number, the name (if it exists), the</div>
<div class="t r" id="t39" style="left:33.1px;top:1176.6px;transform:scaleX(1.0625);">time, the sound mode and the time</div>
<div class="t r" id="t40" style="left:35.4px;top:1198.2px;transform:scaleX(1.0684);">remaining on the timer. Hold down</div>
<div class="t r" id="t41" style="left:73.3px;top:1219.7px;transform:scaleX(1.0711);">for 5 seconds to permanently</div>
<div class="t r" id="t42" style="left:37.6px;top:1241.3px;transform:scaleX(1.0552);">display the programme number on</div>
<div class="t r" id="t43" style="left:25.9px;top:1262.9px;transform:scaleX(1.0272);">the screen. The volume level and the</div>
<div class="t r" id="t44" style="left:31.6px;top:1284.4px;transform:scaleX(1.0690);">smart control adjustments are then</div>
<div class="t r" id="t45" style="left:41.7px;top:1305.9px;transform:scaleX(1.0258);">displayed each time they are used.</div>
<div class="t b" id="t46" style="left:640.1px;top:123.3px;transform:scaleX(1.0772);">Standby</div>
<div class="t r" id="t47" style="left:640.1px;top:145.1px;transform:scaleX(1.0743);">To set the TV to standby mode. To</div>
<div class="t r" id="t48" style="left:640.1px;top:166.6px;transform:scaleX(1.0459);">switch the TV set on again, press</div>
<div class="t r" id="t49" style="left:659.1px;top:188.1px;transform:scaleX(1.0000);">,</div>
<div class="t b" id="t50" style="left:667.6px;top:188.0px;transform:scaleX(0.9839);">P</div>
<div class="t r" id="t51" style="left:734.1px;top:188.1px;transform:scaleX(1.3191);">or</div>
<div class="t r" id="t52" style="left:804.1px;top:188.1px;transform:scaleX(1.0000);">.</div>
<div class="t b" id="t53" style="left:640.1px;top:258.7px;transform:scaleX(1.1168);">List of programmes</div>
<div class="t r" id="t54" style="left:640.1px;top:280.4px;transform:scaleX(0.9521);">To display/clear the list of programmes.</div>
<div class="t r" id="t55" style="left:640.1px;top:302.1px;transform:scaleX(0.9329);">Use the keys</div>
<div class="t r" id="t56" style="left:779.6px;top:302.1px;transform:scaleX(0.9539);">to select a</div>
<div class="t r" id="t57" style="left:640.1px;top:323.2px;transform:scaleX(0.9597);">programme and the key</div>
<div class="t r" id="t58" style="left:829.1px;top:323.2px;transform:scaleX(0.9516);">to display it.</div>
<div class="t i" id="t59" style="left:640.1px;top:345.0px;transform:scaleX(0.9310);">The symbol</div>
<div class="t i" id="t60" style="left:739.6px;top:345.0px;transform:scaleX(0.9271);">is displayed alongside</div>
<div class="t i" id="t61" style="left:640.1px;top:366.8px;transform:scaleX(0.9544);">all programmes which are locked (p.10)</div>
<div class="t i" id="t62" style="left:640.1px;top:388.3px;transform:scaleX(1.0220);">or</div>
<div class="t i" id="t63" style="left:682.1px;top:388.3px;transform:scaleX(0.9542);">if they are not locked.</div>
<div class="t b" id="t64" style="left:640.1px;top:452.9px;transform:scaleX(1.1235);">Teletext keys</div>
<div class="t b2" id="t65" style="left:755.6px;top:453.0px;transform:scaleX(1.0445);">(p. 11)</div>
<div class="t r" id="t66" style="left:640.1px;top:474.4px;transform:scaleX(1.0916);">or VCR / DVD (p.13)</div>
<div class="t r" id="t67" style="left:672.7px;top:496.1px;transform:scaleX(1.0528);">PIP on/off (p. 8)</div>
<div class="t r" id="t68" style="left:672.7px;top:517.2px;transform:scaleX(1.0353);">Move PIP (p. 8)</div>
<div class="t B" id="t69" style="left:640.1px;top:565.8px;transform:scaleX(1.0871);">Smart picture and sound</div>
<div class="t r" id="t70" style="left:640.1px;top:587.0px;transform:scaleX(0.9987);">Used to access a series of predefined</div>
<div class="t r" id="t71" style="left:640.1px;top:608.8px;transform:scaleX(1.0655);">picture and sound settings.</div>
<div class="t i" id="t72" style="left:640.1px;top:630.3px;transform:scaleX(0.9207);">The</div>
<div class="t r" id="t73" style="left:669.5px;top:630.3px;transform:scaleX(1.0483);">PERSONAL</div>
<div class="t i" id="t74" style="left:761.7px;top:630.3px;transform:scaleX(0.9934);">position relates to</div>
<div class="t i" id="t75" style="left:640.1px;top:651.2px;transform:scaleX(0.9747);">settings selected from the menus.</div>
<div class="t b" id="t76" style="left:640.1px;top:687.0px;transform:scaleX(1.0921);">Surround sound</div>
<div class="t r" id="t77" style="left:640.1px;top:709.2px;transform:scaleX(1.0748);">To activate/deactivate the surround</div>
<div class="t r" id="t78" style="left:640.1px;top:730.6px;transform:scaleX(0.9708);">sound effect. In stereo, this gives the</div>
<div class="t r" id="t79" style="left:640.1px;top:752.1px;transform:scaleX(0.9742);">impression that the speakers are further</div>
<div class="t r" id="t80" style="left:640.1px;top:773.6px;transform:scaleX(0.9908);">apart. For models equipped with Virtual</div>
<div class="t r" id="t81" style="left:640.1px;top:795.2px;transform:scaleX(0.9876);">Dolby Surround*, you can obtain Dolby</div>
<div class="t r" id="t82" style="left:640.1px;top:817.0px;transform:scaleX(0.9744);">Surround Pro Logic sound quality. In</div>
<div class="t r" id="t83" style="left:640.1px;top:838.7px;transform:scaleX(0.9225);">mono, a stereo spatial effect is simulated.</div>
<div class="t s" id="t84" style="left:640.1px;top:859.7px;transform:scaleX(1.0490);">* Manufactured under license from Dolby</div>
<div class="t s" id="t85" style="left:640.1px;top:878.8px;transform:scaleX(0.9470);">Laboratories Licensing Corporation. "Dolby" "Pro Logic"</div>
<div class="t s" id="t86" style="left:640.1px;top:897.8px;transform:scaleX(1.0449);">and the double-D symbol</div>
<div class="t s" id="t87" style="left:804.1px;top:897.8px;transform:scaleX(1.0541);">are trademarks of</div>
<div class="t s" id="t88" style="left:640.1px;top:918.0px;transform:scaleX(1.0117);">Dolby Laboratories Licensing Corporation.</div>
<div class="t b" id="t89" style="left:640.1px;top:952.9px;transform:scaleX(1.1171);">Selecting TV programmes</div>
<div class="t r" id="t90" style="left:640.1px;top:975.1px;transform:scaleX(1.0579);">To move up or down a programme.</div>
<div class="t r" id="t91" style="left:640.1px;top:997.0px;transform:scaleX(0.9775);">The number, (the name) and the sound</div>
<div class="t r" id="t92" style="left:640.1px;top:1018.6px;transform:scaleX(0.9880);">mode are displayed for a few seconds.</div>
<div class="t i" id="t93" style="left:640.1px;top:1040.5px;transform:scaleX(0.9763);">For some TV programmes the title of</div>
<div class="t i" id="t94" style="left:640.1px;top:1062.0px;transform:scaleX(1.0138);">the programme appears at the bottom</div>
<div class="t i" id="t95" style="left:640.1px;top:1083.4px;transform:scaleX(0.9593);">of the screen.</div>
<div class="t b" id="t96" style="left:640.1px;top:1116.2px;transform:scaleX(1.1152);">Previous programme</div>
<div class="t r" id="t97" style="left:640.1px;top:1137.8px;transform:scaleX(1.0559);">To access the previously viewed</div>
<div class="t r" id="t98" style="left:640.1px;top:1158.8px;transform:scaleX(1.0208);">programme.</div>
<div class="t b" id="t99" style="left:640.1px;top:1197.0px;transform:scaleX(1.1226);">Numerical keys</div>
<div class="t r" id="t100" style="left:640.1px;top:1218.5px;transform:scaleX(1.0673);">For direct access to programmes.</div>
<div class="t r" id="t101" style="left:640.1px;top:1240.4px;transform:scaleX(1.0774);">For a 2 digit programme number,</div>
<div class="t r" id="t102" style="left:640.1px;top:1261.9px;transform:scaleX(1.0758);">the 2</div>
<div class="t sup" id="t103" style="left:676.7px;top:1257.7px;transform:scaleX(1.0000);">nd</div>
<div class="t r" id="t104" style="left:692.6px;top:1261.9px;transform:scaleX(1.0817);">digit must be entered</div>
<div class="t r" id="t105" style="left:640.1px;top:1283.2px;transform:scaleX(1.0387);">before the dash disappears.</div>
<div class="t B" id="t106" style="left:892.8px;top:1421.0px;transform:scaleX(1.1071);">3</div>
<div class="t dot" id="t107" style="left:904.2px;top:1424.7px;transform:scaleX(1.0000);">.</div>
<svg width="950" height="1465" viewBox="0 0 950 1465" style="position:absolute;left:0;top:0" font-family="Liberation Sans, sans-serif">
<path d="M650 186.5 L656.3 192 A9 9 0 1 1 643.7 192 Z" fill="#fff" stroke="#000" stroke-width="1.2"/>
<circle cx="650" cy="198.3" r="4.2" fill="none" stroke="#000" stroke-width="1"/>
<circle cx="650" cy="198.3" r="1.8" fill="none" stroke="#000" stroke-width="0.9"/>
<circle cx="694.0" cy="196.6" r="9.6" fill="#fff" stroke="#000" stroke-width="1.2"/>
<path d="M691.0 196.6 h6" stroke="#000" stroke-width="1.6"/>
<circle cx="719.2" cy="196.6" r="9.6" fill="#fff" stroke="#000" stroke-width="1.2"/>
<path d="M714.7 196.6 h9 M719.2 192.1 v9" stroke="#000" stroke-width="1.8"/>
<circle cx="767.8" cy="196.6" r="9.6" fill="#fff" stroke="#000" stroke-width="1.2"/>
<text x="767.8" y="201.3" font-size="13" font-weight="bold" text-anchor="middle">0</text>
<circle cx="793.7" cy="196.6" r="9.6" fill="#fff" stroke="#000" stroke-width="1.2"/>
<text x="793.7" y="201.3" font-size="13" font-weight="bold" text-anchor="middle">9</text>
<rect x="729.5" y="306.3" width="22.5" height="11.5" rx="5.7" fill="#fff" stroke="#000" stroke-width="1.2"/>
<path d="M737.0 314 l3.8 -3.8 l3.8 3.8" fill="none" stroke="#000" stroke-width="1.1"/>
<rect x="752.8" y="306.3" width="22.5" height="11.5" rx="5.7" fill="#fff" stroke="#000" stroke-width="1.2"/>
<path d="M760.2 310.3 l3.8 3.8 l3.8 -3.8" fill="none" stroke="#000" stroke-width="1.1"/>
<rect x="802" y="327.3" width="23.5" height="11.8" rx="5.9" fill="#fff" stroke="#000" stroke-width="1.2"/>
<path d="M812.3 329.8 l3.6 3.5 l-3.6 3.5" fill="none" stroke="#000" stroke-width="1.1"/>
<path d="M723.8 353 v-2.5 a3.8 3.8 0 0 1 7.6 0 v2.5" fill="none" stroke="#000" stroke-width="2"/>
<rect x="721" y="352.5" width="13.2" height="9.5" fill="#000"/>
<rect x="726.6" y="355" width="2" height="5" fill="#fff"/>
<rect x="658.5" y="396" width="12.5" height="9.3" fill="#000"/>
<rect x="663.8" y="398.3" width="2" height="5" fill="#fff"/>
<path d="M669.5 396.5 v-3.3 a3.6 3.6 0 0 1 7.2 0 v1.8" fill="none" stroke="#000" stroke-width="2"/>
<rect x="643.6" y="499" width="21" height="13.6" rx="3" fill="#fff" stroke="#000" stroke-width="2"/>
<rect x="654.6" y="499" width="10" height="6.8" fill="#000"/>
<rect x="643.6" y="520.3" width="21" height="13.6" rx="3" fill="#fff" stroke="#000" stroke-width="2"/>
<rect x="654.6" y="520.3" width="10" height="6.8" fill="#000"/>
<path d="M648.6 523.5 v6.2 h7.5 M653.6 527 l2.8 2.7 l-2.8 2.7" fill="none" stroke="#000" stroke-width="1.5"/>
<rect x="779.3" y="901.3" width="20.3" height="12" fill="#000"/>
<path d="M781.3 903.3 h3.6 a3 4 0 0 1 0 8 h-3.6 z" fill="#fff"/>
<path d="M797.6 903.3 h-3.6 a3 4 0 0 0 0 8 h3.6 z" fill="#fff"/>
</svg>
<div id="wm" style="transform:scaleX(0.9676)">ManualsLib.com</div>
<svg width="950" height="1465" viewBox="0 0 950 1465" style="position:absolute;left:0;top:0" font-family="Liberation Sans, sans-serif">
<path d="M305 666.5 H427.5 L433.5 659" stroke="#000" stroke-width="1.3" fill="none"/>
<path d="M296 699.5 H361" stroke="#000" stroke-width="1.3" fill="none"/>
<path d="M561.7 700 H630.5" stroke="#000" stroke-width="1.3" fill="none"/>
<text x="438.0" y="671.5" font-size="9.5" font-weight="bold" fill="#000" text-anchor="start" textLength="42.5" lengthAdjust="spacingAndGlyphs" stroke="#000" stroke-width="0.45">CONTROL</text>
<circle cx="433.5" cy="658.8" r="3.2" fill="#000"/>
<circle cx="361.0" cy="699.8" r="3.2" fill="#000"/>
<circle cx="561.7" cy="699.9" r="3.2" fill="#000"/>
</svg>
</body></html>
